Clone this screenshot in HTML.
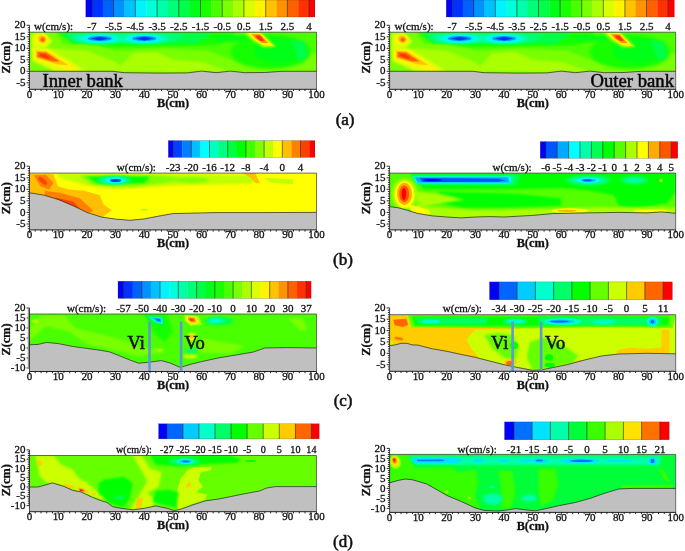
<!DOCTYPE html><html><head><meta charset="utf-8"><title>figure</title><style>html,body{margin:0;padding:0;background:#fff}svg{display:block}.t,.t text{font-family:"Liberation Serif",serif;stroke:#111;stroke-width:0.3px}.tb{stroke-width:0.55px}</style></head><body>
<svg width="685" height="551" viewBox="0 0 685 551">
<defs>
<filter id="b1" x="-50%" y="-50%" width="200%" height="200%"><feGaussianBlur stdDeviation="0.5"/></filter>
<filter id="b2" x="-50%" y="-50%" width="200%" height="200%"><feGaussianBlur stdDeviation="0.8"/></filter>
<filter id="b3" x="-50%" y="-50%" width="200%" height="200%"><feGaussianBlur stdDeviation="1.2"/></filter>
<filter id="b4" x="-50%" y="-50%" width="200%" height="200%"><feGaussianBlur stdDeviation="1.8"/></filter>
<filter id="b5" x="-50%" y="-50%" width="200%" height="200%"><feGaussianBlur stdDeviation="2.5"/></filter>
<filter id="b6" x="-50%" y="-50%" width="200%" height="200%"><feGaussianBlur stdDeviation="3.5"/></filter>
</defs>
<rect width="685" height="551" fill="#fff"/>
<clipPath id="cp1"><polygon points="29.5,32.2 29.5,71.3 112.7,71.3 124.2,72.7 158.7,73.1 187.3,72.9 201.7,71.1 216.1,72.7 230.4,71.1 244.8,72.7 264.8,72.5 282.1,71.3 316.5,71.3 316.5,32.2"/></clipPath>
<rect x="29.5" y="32.2" width="287.0" height="57.1" fill="#c0c0c0"/>
<g clip-path="url(#cp1)">
<rect x="29.5" y="32.2" width="287.0" height="57.1" fill="#79ff00"/>
<polygon points="29.5,32.2 316.5,32.2 316.5,52.9 244.8,64.4 207.4,50.6 158.7,48.3 115.6,50.6 92.6,43.7 63.9,43.7 55.3,32.2" fill="#49ff00" filter="url(#b3)"/>
<polygon points="58.2,32.2 236.1,32.2 218.9,44.8 167.3,46.0 115.6,47.1 72.6,42.5" fill="#18ff00" filter="url(#b3)"/>
<polygon points="61.1,32.7 213.2,32.7 196.0,43.7 72.6,42.8" fill="#00ff49" filter="url(#b2)"/>
<polygon points="66.8,33.8 184.5,33.8 173.0,42.3 75.4,41.9" fill="#00ff79" filter="url(#b2)"/>
<polygon points="72.6,35.4 167.3,35.4 161.5,41.4 81.2,40.9" fill="#00ffaa" filter="url(#b2)"/>
<ellipse cx="270.6" cy="51.8" rx="40.2" ry="17.2" fill="#18ff00" filter="url(#b4)"/>
<ellipse cx="279.2" cy="50.6" rx="25.8" ry="12.6" fill="#00ff18" filter="url(#b4)"/>
<polygon points="290.7,40.2 305.0,41.4 307.9,57.5 299.3,62.1 296.4,52.9" fill="#00ff49" filter="url(#b3)"/>
<polygon points="213.2,35.6 247.6,35.6 247.6,41.4 218.9,41.4" fill="#00ff18" filter="url(#b3)"/>
<polygon points="52.5,48.3 86.9,50.6 115.6,62.1 127.1,71.3 52.5,71.3" fill="#aaff00" filter="url(#b3)"/>
<polygon points="115.6,71.3 132.8,52.9 155.8,51.8 173.0,59.8 201.7,62.1 230.4,71.3" fill="#aaff00" filter="url(#b3)"/>
<ellipse cx="178.7" cy="69.0" rx="17.2" ry="2.8" fill="#aaff00" filter="url(#b2)"/>
<ellipse cx="99.8" cy="38.6" rx="24.4" ry="5.5" fill="#00ffaa" filter="url(#b2)"/>
<ellipse cx="99.8" cy="38.6" rx="18.9" ry="4.4" fill="#00ffdb" filter="url(#b1)"/>
<ellipse cx="99.8" cy="38.6" rx="15.5" ry="3.4" fill="#00f3ff" filter="url(#b1)"/>
<ellipse cx="99.8" cy="38.6" rx="12.1" ry="2.5" fill="#0092ff" filter="url(#b1)"/>
<polygon points="90.6,38.6 99.8,36.8 109.0,38.6 99.8,40.5" fill="#0031ff" filter="url(#b1)"/>
<ellipse cx="144.3" cy="38.6" rx="24.4" ry="5.5" fill="#00ffaa" filter="url(#b2)"/>
<ellipse cx="144.3" cy="38.6" rx="18.9" ry="4.4" fill="#00ffdb" filter="url(#b1)"/>
<ellipse cx="144.3" cy="38.6" rx="15.5" ry="3.4" fill="#00f3ff" filter="url(#b1)"/>
<ellipse cx="144.3" cy="38.6" rx="12.1" ry="2.5" fill="#0092ff" filter="url(#b1)"/>
<polygon points="135.1,38.6 144.3,36.8 153.5,38.6 144.3,40.5" fill="#0031ff" filter="url(#b1)"/>
<polygon points="31.8,33.4 43.9,32.7 52.5,41.4 45.3,48.3 35.2,48.3 31.8,52.9" fill="#dbff00" filter="url(#b2)"/>
<ellipse cx="41.6" cy="39.1" rx="6.9" ry="5.1" fill="#fff300" filter="url(#b2)"/>
<ellipse cx="42.1" cy="39.1" rx="4.3" ry="3.7" fill="#ffc200" filter="url(#b1)" transform="rotate(30 42.1 39.1)"/>
<ellipse cx="42.7" cy="39.6" rx="2.3" ry="2.3" fill="#ff6100" filter="url(#b1)" transform="rotate(30 42.7 39.6)"/>
<polygon points="32.4,47.1 49.6,48.3 86.9,71.3 55.3,71.3 32.4,60.9" fill="#dbff00" filter="url(#b2)"/>
<polygon points="33.8,49.2 48.2,49.9 79.7,69.9 63.9,69.5 33.8,59.3" fill="#fff300" filter="url(#b2)"/>
<polygon points="35.8,50.6 46.7,51.1 68.2,64.9 58.2,64.4 35.8,58.0" fill="#ffc200" filter="url(#b1)"/>
<polygon points="37.5,52.0 46.1,52.4 59.6,61.4 52.5,61.4 37.5,57.0" fill="#ff6100" filter="url(#b1)"/>
<polygon points="39.8,53.8 45.0,54.3 51.0,58.4 46.7,58.6 40.4,56.1" fill="#ff3100" filter="url(#b1)"/>
<polygon points="244.2,32.4 261.4,32.4 276.3,46.9 263.7,47.4 251.9,40.2" fill="#aaff00" filter="url(#b2)"/>
<polygon points="247.3,32.9 260.2,32.9 273.5,46.0 263.7,45.5 253.4,39.1" fill="#fff300" filter="url(#b1)"/>
<polygon points="251.6,34.3 260.2,34.3 268.3,43.0 262.0,43.0 255.1,38.2" fill="#ff9200" filter="url(#b1)"/>
<polygon points="255.1,35.6 260.0,35.6 264.6,40.7 260.8,40.9 257.1,38.2" fill="#ff3100" filter="url(#b1)"/>
</g>
<polyline points="29.5,71.3 112.7,71.3 124.2,72.7 158.7,73.1 187.3,72.9 201.7,71.1 216.1,72.7 230.4,71.1 244.8,72.7 264.8,72.5 282.1,71.3 316.5,71.3" fill="none" stroke="#222" stroke-width="0.7"/>
<line x1="29.5" y1="32.2" x2="316.5" y2="32.2" stroke="#333" stroke-width="0.7"/>
<text class="t tb" font-size="18.7" x="42.5" y="87" fill="#000">Inner bank</text>
<g stroke="#222" stroke-width="0.8" fill="none">
<line x1="29.5" y1="25.3" x2="29.5" y2="89.3"/>
<line x1="29.5" y1="89.3" x2="316.5" y2="89.3" stroke-width="1"/>
<line x1="316.5" y1="32.2" x2="316.5" y2="89.3" stroke-width="0.6"/>
<path d="M29.5 89.3v2.9M35.2 89.3v1.7M41.0 89.3v1.7M46.7 89.3v1.7M52.5 89.3v1.7M58.2 89.3v2.9M63.9 89.3v1.7M69.7 89.3v1.7M75.4 89.3v1.7M81.2 89.3v1.7M86.9 89.3v2.9M92.6 89.3v1.7M98.4 89.3v1.7M104.1 89.3v1.7M109.9 89.3v1.7M115.6 89.3v2.9M121.3 89.3v1.7M127.1 89.3v1.7M132.8 89.3v1.7M138.6 89.3v1.7M144.3 89.3v2.9M150.0 89.3v1.7M155.8 89.3v1.7M161.5 89.3v1.7M167.3 89.3v1.7M173.0 89.3v2.9M178.7 89.3v1.7M184.5 89.3v1.7M190.2 89.3v1.7M196.0 89.3v1.7M201.7 89.3v2.9M207.4 89.3v1.7M213.2 89.3v1.7M218.9 89.3v1.7M224.7 89.3v1.7M230.4 89.3v2.9M236.1 89.3v1.7M241.9 89.3v1.7M247.6 89.3v1.7M253.4 89.3v1.7M259.1 89.3v2.9M264.8 89.3v1.7M270.6 89.3v1.7M276.3 89.3v1.7M282.1 89.3v1.7M287.8 89.3v2.9M293.5 89.3v1.7M299.3 89.3v1.7M305.0 89.3v1.7M310.8 89.3v1.7M316.5 89.3v2.9M29.5 87.4h-1.7M29.5 85.1h-1.7M29.5 82.8h-2.9M29.5 80.5h-1.7M29.5 78.2h-1.7M29.5 75.9h-1.7M29.5 73.6h-1.7M29.5 71.3h-2.9M29.5 69.0h-1.7M29.5 66.7h-1.7M29.5 64.4h-1.7M29.5 62.1h-1.7M29.5 59.8h-2.9M29.5 57.5h-1.7M29.5 55.2h-1.7M29.5 52.9h-1.7M29.5 50.6h-1.7M29.5 48.3h-2.9M29.5 46.0h-1.7M29.5 43.7h-1.7M29.5 41.4h-1.7M29.5 39.1h-1.7M29.5 36.8h-2.9M29.5 34.5h-1.7M29.5 32.2h-1.7M29.5 29.9h-1.7M29.5 27.6h-1.7M29.5 25.3h-2.9" stroke-width="0.9" stroke="#111"/>
</g>
<g class="t" font-size="11" fill="#111">
<text x="29.5" y="97.8" text-anchor="middle">0</text>
<text x="58.2" y="97.8" text-anchor="middle">10</text>
<text x="86.9" y="97.8" text-anchor="middle">20</text>
<text x="115.6" y="97.8" text-anchor="middle">30</text>
<text x="144.3" y="97.8" text-anchor="middle">40</text>
<text x="173.0" y="97.8" text-anchor="middle">50</text>
<text x="201.7" y="97.8" text-anchor="middle">60</text>
<text x="230.4" y="97.8" text-anchor="middle">70</text>
<text x="259.1" y="97.8" text-anchor="middle">80</text>
<text x="287.8" y="97.8" text-anchor="middle">90</text>
<text x="316.5" y="97.8" text-anchor="middle">100</text>
<text x="25.4" y="85.9" text-anchor="end">-5</text>
<text x="25.4" y="74.4" text-anchor="end">0</text>
<text x="25.4" y="62.9" text-anchor="end">5</text>
<text x="25.4" y="51.4" text-anchor="end">10</text>
<text x="25.4" y="39.9" text-anchor="end">15</text>
<text x="25.4" y="28.4" text-anchor="end">20</text>
</g>
<text class="t" font-size="12.3" font-weight="bold" x="173.0" y="106.7" text-anchor="middle" fill="#111">B(cm)</text>
<text class="t" font-size="12.3" font-weight="bold" transform="translate(9.7 57.5) rotate(-90)" text-anchor="middle" fill="#111">Z(cm)</text>
<rect x="85.80" y="0.0" width="6.40" height="17.0" fill="#0000ff"/>
<rect x="91.90" y="0.0" width="11.16" height="17.0" fill="#0031ff"/>
<rect x="102.76" y="0.0" width="11.16" height="17.0" fill="#0061ff"/>
<rect x="113.62" y="0.0" width="11.16" height="17.0" fill="#0092ff"/>
<rect x="124.48" y="0.0" width="11.16" height="17.0" fill="#00c2ff"/>
<rect x="135.34" y="0.0" width="11.16" height="17.0" fill="#00f3ff"/>
<rect x="146.20" y="0.0" width="11.16" height="17.0" fill="#00ffdb"/>
<rect x="157.06" y="0.0" width="11.16" height="17.0" fill="#00ffaa"/>
<rect x="167.92" y="0.0" width="11.16" height="17.0" fill="#00ff79"/>
<rect x="178.78" y="0.0" width="11.16" height="17.0" fill="#00ff49"/>
<rect x="189.64" y="0.0" width="11.16" height="17.0" fill="#00ff18"/>
<rect x="200.50" y="0.0" width="11.16" height="17.0" fill="#18ff00"/>
<rect x="211.36" y="0.0" width="11.16" height="17.0" fill="#49ff00"/>
<rect x="222.22" y="0.0" width="11.16" height="17.0" fill="#79ff00"/>
<rect x="233.08" y="0.0" width="11.16" height="17.0" fill="#aaff00"/>
<rect x="243.94" y="0.0" width="11.16" height="17.0" fill="#dbff00"/>
<rect x="254.80" y="0.0" width="11.16" height="17.0" fill="#fff300"/>
<rect x="265.66" y="0.0" width="11.16" height="17.0" fill="#ffc200"/>
<rect x="276.52" y="0.0" width="11.16" height="17.0" fill="#ff9200"/>
<rect x="287.38" y="0.0" width="11.16" height="17.0" fill="#ff6100"/>
<rect x="298.24" y="0.0" width="11.16" height="17.0" fill="#ff3100"/>
<rect x="309.10" y="0.0" width="5.90" height="17.0" fill="#ff0000"/>
<path d="M91.9 0.0V17.0M113.6 0.0V17.0M135.3 0.0V17.0M157.1 0.0V17.0M178.8 0.0V17.0M200.5 0.0V17.0M222.2 0.0V17.0M243.9 0.0V17.0M265.7 0.0V17.0M287.4 0.0V17.0M309.1 0.0V17.0" stroke="#222" stroke-width="0.6" fill="none"/>
<rect x="85.8" y="0.0" width="228.9" height="17.0" fill="none" stroke="#333" stroke-width="0.4" stroke-opacity="0.6"/>
<g class="t" font-size="11" fill="#111">
<text x="91.9" y="30.0" text-anchor="middle">-7</text>
<text x="113.6" y="30.0" text-anchor="middle">-5.5</text>
<text x="135.3" y="30.0" text-anchor="middle">-4.5</text>
<text x="157.1" y="30.0" text-anchor="middle">-3.5</text>
<text x="178.8" y="30.0" text-anchor="middle">-2.5</text>
<text x="200.5" y="30.0" text-anchor="middle">-1.5</text>
<text x="222.2" y="30.0" text-anchor="middle">-0.5</text>
<text x="243.9" y="30.0" text-anchor="middle">0.5</text>
<text x="265.7" y="30.0" text-anchor="middle">1.5</text>
<text x="287.4" y="30.0" text-anchor="middle">2.5</text>
<text x="309.1" y="30.0" text-anchor="middle">4</text>
<text x="34.0" y="30.0">w(cm/s):</text>
</g>
<clipPath id="cp2"><polygon points="389.6,32.2 389.6,71.3 472.6,71.3 484.0,72.7 518.3,73.1 547.0,72.9 561.3,71.1 575.6,72.7 589.9,71.1 604.2,72.7 624.2,72.5 641.4,71.3 675.7,71.3 675.7,32.2"/></clipPath>
<rect x="389.6" y="32.2" width="286.1" height="57.1" fill="#c0c0c0"/>
<g clip-path="url(#cp2)">
<rect x="389.6" y="32.2" width="286.1" height="57.1" fill="#79ff00"/>
<polygon points="389.6,32.2 675.7,32.2 675.7,52.9 604.2,64.4 567.0,50.6 518.3,48.3 475.4,50.6 452.5,43.7 423.9,43.7 415.3,32.2" fill="#49ff00" filter="url(#b3)"/>
<polygon points="418.2,32.2 595.6,32.2 578.4,44.8 526.9,46.0 475.4,47.1 432.5,42.5" fill="#18ff00" filter="url(#b3)"/>
<polygon points="421.1,32.7 572.7,32.7 555.5,43.7 432.5,42.8" fill="#00ff49" filter="url(#b2)"/>
<polygon points="426.8,33.8 544.1,33.8 532.7,42.3 435.4,41.9" fill="#00ff79" filter="url(#b2)"/>
<polygon points="432.5,35.4 526.9,35.4 521.2,41.4 441.1,40.9" fill="#00ffaa" filter="url(#b2)"/>
<ellipse cx="629.9" cy="51.8" rx="40.1" ry="17.2" fill="#18ff00" filter="url(#b4)"/>
<ellipse cx="638.5" cy="50.6" rx="25.7" ry="12.6" fill="#00ff18" filter="url(#b4)"/>
<polygon points="650.0,40.2 664.3,41.4 667.1,57.5 658.5,62.1 655.7,52.9" fill="#00ff49" filter="url(#b3)"/>
<polygon points="572.7,35.6 607.0,35.6 607.0,41.4 578.4,41.4" fill="#00ff18" filter="url(#b3)"/>
<polygon points="412.5,48.3 446.8,50.6 475.4,62.1 486.9,71.3 412.5,71.3" fill="#aaff00" filter="url(#b3)"/>
<polygon points="475.4,71.3 492.6,52.9 515.5,51.8 532.7,59.8 561.3,62.1 589.9,71.3" fill="#aaff00" filter="url(#b3)"/>
<ellipse cx="538.4" cy="69.0" rx="17.2" ry="2.8" fill="#aaff00" filter="url(#b2)"/>
<ellipse cx="459.7" cy="38.6" rx="24.3" ry="5.5" fill="#00ffaa" filter="url(#b2)"/>
<ellipse cx="459.7" cy="38.6" rx="18.9" ry="4.4" fill="#00ffdb" filter="url(#b1)"/>
<ellipse cx="459.7" cy="38.6" rx="15.4" ry="3.4" fill="#00f3ff" filter="url(#b1)"/>
<ellipse cx="459.7" cy="38.6" rx="12.0" ry="2.5" fill="#0092ff" filter="url(#b1)"/>
<polygon points="450.5,38.6 459.7,36.8 468.8,38.6 459.7,40.5" fill="#0031ff" filter="url(#b1)"/>
<ellipse cx="504.0" cy="38.6" rx="24.3" ry="5.5" fill="#00ffaa" filter="url(#b2)"/>
<ellipse cx="504.0" cy="38.6" rx="18.9" ry="4.4" fill="#00ffdb" filter="url(#b1)"/>
<ellipse cx="504.0" cy="38.6" rx="15.4" ry="3.4" fill="#00f3ff" filter="url(#b1)"/>
<ellipse cx="504.0" cy="38.6" rx="12.0" ry="2.5" fill="#0092ff" filter="url(#b1)"/>
<polygon points="494.9,38.6 504.0,36.8 513.2,38.6 504.0,40.5" fill="#0031ff" filter="url(#b1)"/>
<polygon points="391.9,33.4 403.9,32.7 412.5,41.4 405.3,48.3 395.3,48.3 391.9,52.9" fill="#dbff00" filter="url(#b2)"/>
<ellipse cx="401.6" cy="39.1" rx="6.9" ry="5.1" fill="#fff300" filter="url(#b2)"/>
<ellipse cx="402.2" cy="39.1" rx="4.3" ry="3.7" fill="#ffc200" filter="url(#b1)" transform="rotate(30 402.2 39.1)"/>
<ellipse cx="402.8" cy="39.6" rx="2.3" ry="2.3" fill="#ff6100" filter="url(#b1)" transform="rotate(30 402.8 39.6)"/>
<polygon points="392.5,47.1 409.6,48.3 446.8,71.3 415.3,71.3 392.5,60.9" fill="#dbff00" filter="url(#b2)"/>
<polygon points="393.9,49.2 408.2,49.9 439.7,69.9 423.9,69.5 393.9,59.3" fill="#fff300" filter="url(#b2)"/>
<polygon points="395.9,50.6 406.8,51.1 428.2,64.9 418.2,64.4 395.9,58.0" fill="#ffc200" filter="url(#b1)"/>
<polygon points="397.6,52.0 406.2,52.4 419.6,61.4 412.5,61.4 397.6,57.0" fill="#ff6100" filter="url(#b1)"/>
<polygon points="399.9,53.8 405.0,54.3 411.1,58.4 406.8,58.6 400.5,56.1" fill="#ff3100" filter="url(#b1)"/>
<polygon points="603.6,32.4 620.8,32.4 635.6,46.9 623.1,47.4 611.3,40.2" fill="#aaff00" filter="url(#b2)"/>
<polygon points="606.7,32.9 619.6,32.9 632.8,46.0 623.1,45.5 612.8,39.1" fill="#fff300" filter="url(#b1)"/>
<polygon points="611.0,34.3 619.6,34.3 627.6,43.0 621.3,43.0 614.5,38.2" fill="#ff9200" filter="url(#b1)"/>
<polygon points="614.5,35.6 619.3,35.6 623.9,40.7 620.2,40.9 616.5,38.2" fill="#ff3100" filter="url(#b1)"/>
</g>
<polyline points="389.6,71.3 472.6,71.3 484.0,72.7 518.3,73.1 547.0,72.9 561.3,71.1 575.6,72.7 589.9,71.1 604.2,72.7 624.2,72.5 641.4,71.3 675.7,71.3" fill="none" stroke="#222" stroke-width="0.7"/>
<line x1="389.6" y1="32.2" x2="675.7" y2="32.2" stroke="#333" stroke-width="0.7"/>
<text class="t tb" font-size="18.7" x="674" y="87" text-anchor="end" fill="#000">Outer bank</text>
<g stroke="#222" stroke-width="0.8" fill="none">
<line x1="389.6" y1="25.3" x2="389.6" y2="89.3"/>
<line x1="389.6" y1="89.3" x2="675.7" y2="89.3" stroke-width="1"/>
<line x1="675.7" y1="32.2" x2="675.7" y2="89.3" stroke-width="0.6"/>
<path d="M389.6 89.3v2.9M395.3 89.3v1.7M401.0 89.3v1.7M406.8 89.3v1.7M412.5 89.3v1.7M418.2 89.3v2.9M423.9 89.3v1.7M429.7 89.3v1.7M435.4 89.3v1.7M441.1 89.3v1.7M446.8 89.3v2.9M452.5 89.3v1.7M458.3 89.3v1.7M464.0 89.3v1.7M469.7 89.3v1.7M475.4 89.3v2.9M481.2 89.3v1.7M486.9 89.3v1.7M492.6 89.3v1.7M498.3 89.3v1.7M504.0 89.3v2.9M509.8 89.3v1.7M515.5 89.3v1.7M521.2 89.3v1.7M526.9 89.3v1.7M532.7 89.3v2.9M538.4 89.3v1.7M544.1 89.3v1.7M549.8 89.3v1.7M555.5 89.3v1.7M561.3 89.3v2.9M567.0 89.3v1.7M572.7 89.3v1.7M578.4 89.3v1.7M584.1 89.3v1.7M589.9 89.3v2.9M595.6 89.3v1.7M601.3 89.3v1.7M607.0 89.3v1.7M612.8 89.3v1.7M618.5 89.3v2.9M624.2 89.3v1.7M629.9 89.3v1.7M635.6 89.3v1.7M641.4 89.3v1.7M647.1 89.3v2.9M652.8 89.3v1.7M658.5 89.3v1.7M664.3 89.3v1.7M670.0 89.3v1.7M675.7 89.3v2.9M389.6 87.4h-1.7M389.6 85.1h-1.7M389.6 82.8h-2.9M389.6 80.5h-1.7M389.6 78.2h-1.7M389.6 75.9h-1.7M389.6 73.6h-1.7M389.6 71.3h-2.9M389.6 69.0h-1.7M389.6 66.7h-1.7M389.6 64.4h-1.7M389.6 62.1h-1.7M389.6 59.8h-2.9M389.6 57.5h-1.7M389.6 55.2h-1.7M389.6 52.9h-1.7M389.6 50.6h-1.7M389.6 48.3h-2.9M389.6 46.0h-1.7M389.6 43.7h-1.7M389.6 41.4h-1.7M389.6 39.1h-1.7M389.6 36.8h-2.9M389.6 34.5h-1.7M389.6 32.2h-1.7M389.6 29.9h-1.7M389.6 27.6h-1.7M389.6 25.3h-2.9" stroke-width="0.9" stroke="#111"/>
</g>
<g class="t" font-size="11" fill="#111">
<text x="389.6" y="97.8" text-anchor="middle">0</text>
<text x="418.2" y="97.8" text-anchor="middle">10</text>
<text x="446.8" y="97.8" text-anchor="middle">20</text>
<text x="475.4" y="97.8" text-anchor="middle">30</text>
<text x="504.0" y="97.8" text-anchor="middle">40</text>
<text x="532.7" y="97.8" text-anchor="middle">50</text>
<text x="561.3" y="97.8" text-anchor="middle">60</text>
<text x="589.9" y="97.8" text-anchor="middle">70</text>
<text x="618.5" y="97.8" text-anchor="middle">80</text>
<text x="647.1" y="97.8" text-anchor="middle">90</text>
<text x="675.7" y="97.8" text-anchor="middle">100</text>
<text x="385.5" y="85.9" text-anchor="end">-5</text>
<text x="385.5" y="74.4" text-anchor="end">0</text>
<text x="385.5" y="62.9" text-anchor="end">5</text>
<text x="385.5" y="51.4" text-anchor="end">10</text>
<text x="385.5" y="39.9" text-anchor="end">15</text>
<text x="385.5" y="28.4" text-anchor="end">20</text>
</g>
<text class="t" font-size="12.3" font-weight="bold" x="532.7" y="106.7" text-anchor="middle" fill="#111">B(cm)</text>
<text class="t" font-size="12.3" font-weight="bold" transform="translate(369.8 57.5) rotate(-90)" text-anchor="middle" fill="#111">Z(cm)</text>
<rect x="446.20" y="0.0" width="6.20" height="17.0" fill="#0000ff"/>
<rect x="452.10" y="0.0" width="11.10" height="17.0" fill="#0031ff"/>
<rect x="462.90" y="0.0" width="11.10" height="17.0" fill="#0061ff"/>
<rect x="473.70" y="0.0" width="11.10" height="17.0" fill="#0092ff"/>
<rect x="484.50" y="0.0" width="11.10" height="17.0" fill="#00c2ff"/>
<rect x="495.30" y="0.0" width="11.10" height="17.0" fill="#00f3ff"/>
<rect x="506.10" y="0.0" width="11.10" height="17.0" fill="#00ffdb"/>
<rect x="516.90" y="0.0" width="11.10" height="17.0" fill="#00ffaa"/>
<rect x="527.70" y="0.0" width="11.10" height="17.0" fill="#00ff79"/>
<rect x="538.50" y="0.0" width="11.10" height="17.0" fill="#00ff49"/>
<rect x="549.30" y="0.0" width="11.10" height="17.0" fill="#00ff18"/>
<rect x="560.10" y="0.0" width="11.10" height="17.0" fill="#18ff00"/>
<rect x="570.90" y="0.0" width="11.10" height="17.0" fill="#49ff00"/>
<rect x="581.70" y="0.0" width="11.10" height="17.0" fill="#79ff00"/>
<rect x="592.50" y="0.0" width="11.10" height="17.0" fill="#aaff00"/>
<rect x="603.30" y="0.0" width="11.10" height="17.0" fill="#dbff00"/>
<rect x="614.10" y="0.0" width="11.10" height="17.0" fill="#fff300"/>
<rect x="624.90" y="0.0" width="11.10" height="17.0" fill="#ffc200"/>
<rect x="635.70" y="0.0" width="11.10" height="17.0" fill="#ff9200"/>
<rect x="646.50" y="0.0" width="11.10" height="17.0" fill="#ff6100"/>
<rect x="657.30" y="0.0" width="11.10" height="17.0" fill="#ff3100"/>
<rect x="668.10" y="0.0" width="6.30" height="17.0" fill="#ff0000"/>
<path d="M452.1 0.0V17.0M473.7 0.0V17.0M495.3 0.0V17.0M516.9 0.0V17.0M538.5 0.0V17.0M560.1 0.0V17.0M581.7 0.0V17.0M603.3 0.0V17.0M624.9 0.0V17.0M646.5 0.0V17.0M668.1 0.0V17.0" stroke="#222" stroke-width="0.6" fill="none"/>
<rect x="446.2" y="0.0" width="227.9" height="17.0" fill="none" stroke="#333" stroke-width="0.4" stroke-opacity="0.6"/>
<g class="t" font-size="11" fill="#111">
<text x="452.1" y="30.0" text-anchor="middle">-7</text>
<text x="473.7" y="30.0" text-anchor="middle">-5.5</text>
<text x="495.3" y="30.0" text-anchor="middle">-4.5</text>
<text x="516.9" y="30.0" text-anchor="middle">-3.5</text>
<text x="538.5" y="30.0" text-anchor="middle">-2.5</text>
<text x="560.1" y="30.0" text-anchor="middle">-1.5</text>
<text x="581.7" y="30.0" text-anchor="middle">-0.5</text>
<text x="603.3" y="30.0" text-anchor="middle">0.5</text>
<text x="624.9" y="30.0" text-anchor="middle">1.5</text>
<text x="646.5" y="30.0" text-anchor="middle">2.5</text>
<text x="668.1" y="30.0" text-anchor="middle">4</text>
<text x="394.5" y="30.0">w(cm/s):</text>
</g>
<clipPath id="cp3"><polygon points="29.5,173.1 29.5,192.8 43.9,195.1 58.2,199.5 72.6,205.5 86.9,212.4 101.2,217.0 115.6,219.1 129.9,220.3 144.3,218.9 158.7,216.1 173.0,213.6 201.7,212.9 216.1,212.6 259.1,212.6 316.5,212.4 316.5,173.1"/></clipPath>
<rect x="29.5" y="173.1" width="287.0" height="56.8" fill="#c0c0c0"/>
<g clip-path="url(#cp3)">
<rect x="29.5" y="173.1" width="287.0" height="56.8" fill="#ffff00"/>
<polygon points="55.3,174.1 173.0,174.1 253.4,175.4 253.4,183.5 201.7,184.7 173.0,185.8 115.6,188.8 86.9,185.8 63.9,178.9" fill="#bfff00" filter="url(#b2)"/>
<polygon points="78.3,175.4 161.5,175.4 190.2,178.9 155.8,184.0 132.8,186.5 92.6,184.7" fill="#80ff00" filter="url(#b2)"/>
<polygon points="85.5,176.4 150.0,176.4 144.3,183.3 98.4,183.8" fill="#00ff00" filter="url(#b2)"/>
<ellipse cx="114.2" cy="180.3" rx="17.2" ry="4.6" fill="#00ff80" filter="url(#b2)"/>
<ellipse cx="115.0" cy="180.3" rx="10.9" ry="3.0" fill="#00ffff" filter="url(#b2)"/>
<ellipse cx="115.6" cy="180.5" rx="5.7" ry="1.6" fill="#0040ff" filter="url(#b1)"/>
<polygon points="264.0,177.8 293.5,179.6 293.0,184.2 270.6,182.4" fill="#bfff00" filter="url(#b1)"/>
<ellipse cx="193.1" cy="180.1" rx="15.8" ry="2.8" fill="#80ff00" filter="url(#b2)"/>
<ellipse cx="144.3" cy="209.9" rx="3.7" ry="1.2" fill="#bfff00" filter="url(#b1)"/>
<polygon points="29.5,174.1 53.3,174.1 57.9,186.3 68.8,189.5 84.0,190.7 99.5,195.1 103.8,204.8 111.6,210.3 100.7,218.4 58.2,200.8 29.5,193.9" fill="#ffbf00" filter="url(#b1)"/>
<polygon points="33.8,175.2 45.9,174.7 53.6,183.1 49.0,189.5 40.4,186.3" fill="#ff8000" filter="url(#b1)"/>
<ellipse cx="42.7" cy="180.8" rx="5.7" ry="2.3" fill="#ff4000" filter="url(#b1)" transform="rotate(40 42.7 180.8)"/>
<polygon points="44.7,190.7 59.9,192.8 79.7,198.3 90.6,208.2 92.9,211.0 86.9,213.6 58.2,200.8 44.7,196.2" fill="#ff8000" filter="url(#b1)"/>
<polygon points="54.5,197.2 73.1,201.5 79.7,208.2 72.0,205.9 57.9,200.4" fill="#ff4000" filter="url(#b1)"/>
<polygon points="241.9,173.1 255.1,173.1 260.0,183.3 255.7,183.3 250.5,177.8" fill="#ffbf00" filter="url(#b1)"/>
</g>
<polyline points="29.5,192.8 43.9,195.1 58.2,199.5 72.6,205.5 86.9,212.4 101.2,217.0 115.6,219.1 129.9,220.3 144.3,218.9 158.7,216.1 173.0,213.6 201.7,212.9 216.1,212.6 259.1,212.6 316.5,212.4" fill="none" stroke="#222" stroke-width="0.7"/>
<line x1="29.5" y1="173.1" x2="316.5" y2="173.1" stroke="#333" stroke-width="0.7"/>

<g stroke="#222" stroke-width="0.8" fill="none">
<line x1="29.5" y1="166.2" x2="29.5" y2="229.9"/>
<line x1="29.5" y1="229.9" x2="316.5" y2="229.9" stroke-width="1"/>
<line x1="316.5" y1="173.1" x2="316.5" y2="229.9" stroke-width="0.6"/>
<path d="M29.5 229.9v2.9M35.2 229.9v1.7M41.0 229.9v1.7M46.7 229.9v1.7M52.5 229.9v1.7M58.2 229.9v2.9M63.9 229.9v1.7M69.7 229.9v1.7M75.4 229.9v1.7M81.2 229.9v1.7M86.9 229.9v2.9M92.6 229.9v1.7M98.4 229.9v1.7M104.1 229.9v1.7M109.9 229.9v1.7M115.6 229.9v2.9M121.3 229.9v1.7M127.1 229.9v1.7M132.8 229.9v1.7M138.6 229.9v1.7M144.3 229.9v2.9M150.0 229.9v1.7M155.8 229.9v1.7M161.5 229.9v1.7M167.3 229.9v1.7M173.0 229.9v2.9M178.7 229.9v1.7M184.5 229.9v1.7M190.2 229.9v1.7M196.0 229.9v1.7M201.7 229.9v2.9M207.4 229.9v1.7M213.2 229.9v1.7M218.9 229.9v1.7M224.7 229.9v1.7M230.4 229.9v2.9M236.1 229.9v1.7M241.9 229.9v1.7M247.6 229.9v1.7M253.4 229.9v1.7M259.1 229.9v2.9M264.8 229.9v1.7M270.6 229.9v1.7M276.3 229.9v1.7M282.1 229.9v1.7M287.8 229.9v2.9M293.5 229.9v1.7M299.3 229.9v1.7M305.0 229.9v1.7M310.8 229.9v1.7M316.5 229.9v2.9M29.5 228.6h-1.7M29.5 226.3h-1.7M29.5 224.0h-2.9M29.5 221.6h-1.7M29.5 219.3h-1.7M29.5 217.0h-1.7M29.5 214.7h-1.7M29.5 212.4h-2.9M29.5 210.1h-1.7M29.5 207.8h-1.7M29.5 205.5h-1.7M29.5 203.2h-1.7M29.5 200.8h-2.9M29.5 198.5h-1.7M29.5 196.2h-1.7M29.5 193.9h-1.7M29.5 191.6h-1.7M29.5 189.3h-2.9M29.5 187.0h-1.7M29.5 184.7h-1.7M29.5 182.4h-1.7M29.5 180.1h-1.7M29.5 177.8h-2.9M29.5 175.4h-1.7M29.5 173.1h-1.7M29.5 170.8h-1.7M29.5 168.5h-1.7M29.5 166.2h-2.9" stroke-width="0.9" stroke="#111"/>
</g>
<g class="t" font-size="11" fill="#111">
<text x="29.5" y="238.4" text-anchor="middle">0</text>
<text x="58.2" y="238.4" text-anchor="middle">10</text>
<text x="86.9" y="238.4" text-anchor="middle">20</text>
<text x="115.6" y="238.4" text-anchor="middle">30</text>
<text x="144.3" y="238.4" text-anchor="middle">40</text>
<text x="173.0" y="238.4" text-anchor="middle">50</text>
<text x="201.7" y="238.4" text-anchor="middle">60</text>
<text x="230.4" y="238.4" text-anchor="middle">70</text>
<text x="259.1" y="238.4" text-anchor="middle">80</text>
<text x="287.8" y="238.4" text-anchor="middle">90</text>
<text x="316.5" y="238.4" text-anchor="middle">100</text>
<text x="25.4" y="227.1" text-anchor="end">-5</text>
<text x="25.4" y="215.5" text-anchor="end">0</text>
<text x="25.4" y="203.9" text-anchor="end">5</text>
<text x="25.4" y="192.4" text-anchor="end">10</text>
<text x="25.4" y="180.8" text-anchor="end">15</text>
<text x="25.4" y="169.3" text-anchor="end">20</text>
</g>
<text class="t" font-size="12.3" font-weight="bold" x="173.0" y="247.3" text-anchor="middle" fill="#111">B(cm)</text>
<text class="t" font-size="12.3" font-weight="bold" transform="translate(9.7 198.2) rotate(-90)" text-anchor="middle" fill="#111">Z(cm)</text>
<rect x="168.30" y="140.6" width="5.10" height="16.8" fill="#0000ff"/>
<rect x="173.10" y="140.6" width="9.40" height="16.8" fill="#0040ff"/>
<rect x="182.20" y="140.6" width="9.40" height="16.8" fill="#0080ff"/>
<rect x="191.30" y="140.6" width="9.40" height="16.8" fill="#00bfff"/>
<rect x="200.40" y="140.6" width="9.40" height="16.8" fill="#00ffff"/>
<rect x="209.50" y="140.6" width="9.40" height="16.8" fill="#00ffbf"/>
<rect x="218.60" y="140.6" width="9.40" height="16.8" fill="#00ff80"/>
<rect x="227.70" y="140.6" width="9.40" height="16.8" fill="#00ff40"/>
<rect x="236.80" y="140.6" width="9.40" height="16.8" fill="#00ff00"/>
<rect x="245.90" y="140.6" width="9.40" height="16.8" fill="#40ff00"/>
<rect x="255.00" y="140.6" width="9.40" height="16.8" fill="#80ff00"/>
<rect x="264.10" y="140.6" width="9.40" height="16.8" fill="#bfff00"/>
<rect x="273.20" y="140.6" width="9.40" height="16.8" fill="#ffff00"/>
<rect x="282.30" y="140.6" width="9.40" height="16.8" fill="#ffbf00"/>
<rect x="291.40" y="140.6" width="9.40" height="16.8" fill="#ff8000"/>
<rect x="300.50" y="140.6" width="9.40" height="16.8" fill="#ff4000"/>
<rect x="309.60" y="140.6" width="5.40" height="16.8" fill="#ff0000"/>
<path d="M173.1 140.6V157.4M191.3 140.6V157.4M209.5 140.6V157.4M227.7 140.6V157.4M245.9 140.6V157.4M264.1 140.6V157.4M282.3 140.6V157.4M300.5 140.6V157.4" stroke="#222" stroke-width="0.6" fill="none"/>
<rect x="168.3" y="140.6" width="146.4" height="16.8" fill="none" stroke="#333" stroke-width="0.4" stroke-opacity="0.6"/>
<g class="t" font-size="11" fill="#111">
<text x="173.1" y="170.8" text-anchor="middle">-23</text>
<text x="191.3" y="170.8" text-anchor="middle">-20</text>
<text x="209.5" y="170.8" text-anchor="middle">-16</text>
<text x="227.7" y="170.8" text-anchor="middle">-12</text>
<text x="245.9" y="170.8" text-anchor="middle">-8</text>
<text x="264.1" y="170.8" text-anchor="middle">-4</text>
<text x="282.3" y="170.8" text-anchor="middle">0</text>
<text x="300.5" y="170.8" text-anchor="middle">4</text>
<text x="116.8" y="170.8">w(cm/s):</text>
</g>
<clipPath id="cp4"><polygon points="389.6,173.1 389.6,206.6 398.2,207.8 406.8,210.1 418.2,213.6 432.5,215.9 446.8,217.0 461.1,217.9 475.4,217.0 489.7,216.6 504.0,217.0 532.7,215.4 552.7,213.6 575.6,213.1 618.5,212.4 647.1,212.9 661.4,211.9 675.7,213.3 675.7,173.1"/></clipPath>
<rect x="389.6" y="173.1" width="286.1" height="56.8" fill="#c0c0c0"/>
<g clip-path="url(#cp4)">
<rect x="389.6" y="173.1" width="286.1" height="56.8" fill="#55ff00"/>
<polygon points="409.6,173.1 675.7,173.1 675.7,191.6 667.1,203.2 641.4,206.6 618.5,196.2 589.9,190.5 561.3,188.1 504.0,189.3 423.9,189.3" fill="#00ff00" filter="url(#b3)"/>
<polygon points="411.1,174.5 521.2,174.5 515.5,185.6 418.2,184.7" fill="#00ff55" filter="url(#b2)"/>
<polygon points="412.5,175.9 514.1,175.9 511.2,184.0 416.8,183.8" fill="#00ffaa" filter="url(#b2)"/>
<polygon points="413.3,176.6 511.2,176.6 509.2,183.3 416.2,183.1" fill="#00ffff" filter="url(#b1)"/>
<polygon points="414.8,177.3 508.3,177.3 509.2,182.6 417.6,182.6" fill="#00aaff" filter="url(#b1)"/>
<polygon points="419.6,178.0 458.3,178.2 498.3,178.7 505.5,180.5 498.3,181.7 458.3,181.9 422.5,181.9" fill="#0055ff" filter="url(#b1)"/>
<ellipse cx="432.5" cy="180.1" rx="9.7" ry="1.2" fill="#0000ff" filter="url(#b1)"/>
<ellipse cx="588.4" cy="180.3" rx="22.9" ry="5.5" fill="#00ff55" filter="url(#b3)"/>
<ellipse cx="588.4" cy="180.3" rx="17.2" ry="3.9" fill="#00ffaa" filter="url(#b2)"/>
<ellipse cx="588.4" cy="180.3" rx="11.4" ry="2.5" fill="#00ffff" filter="url(#b1)"/>
<ellipse cx="588.4" cy="180.3" rx="7.4" ry="1.6" fill="#00aaff" filter="url(#b1)"/>
<ellipse cx="587.0" cy="180.3" rx="4.6" ry="1.0" fill="#0055ff" filter="url(#b1)"/>
<ellipse cx="634.2" cy="180.3" rx="14.3" ry="4.6" fill="#00ff55" filter="url(#b3)"/>
<ellipse cx="634.2" cy="180.3" rx="9.2" ry="2.5" fill="#00ffaa" filter="url(#b2)"/>
<ellipse cx="661.1" cy="180.5" rx="1.7" ry="1.8" fill="#aaff00" filter="url(#b1)"/>
<polygon points="438.2,191.6 518.3,193.9 561.3,198.5 561.3,205.5 504.0,207.8 464.0,207.8 441.1,203.2" fill="#00ff00" filter="url(#b3)"/>
<polygon points="612.8,191.6 652.8,189.3 664.3,200.8 635.6,208.9 618.5,205.5" fill="#00ff00" filter="url(#b3)"/>
<polygon points="412.5,205.5 475.4,210.1 538.4,208.9 589.9,207.3 675.7,207.3 675.7,219.3 412.5,219.3" fill="#aaff00" filter="url(#b2)"/>
<polygon points="415.3,191.6 441.1,193.9 464.0,199.7 435.4,204.3 418.2,207.8" fill="#aaff00" filter="url(#b2)"/>
<ellipse cx="404.5" cy="194.4" rx="12.6" ry="15.7" fill="#aaff00" filter="url(#b2)"/>
<ellipse cx="404.5" cy="194.4" rx="10.0" ry="13.4" fill="#ffff00" filter="url(#b1)"/>
<ellipse cx="404.5" cy="193.9" rx="7.4" ry="11.1" fill="#ffaa00" filter="url(#b1)"/>
<ellipse cx="404.2" cy="193.9" rx="4.9" ry="8.3" fill="#ff5500" filter="url(#b1)"/>
<ellipse cx="403.9" cy="193.9" rx="2.3" ry="6.0" fill="#ff0000" filter="url(#b1)"/>
<polygon points="406.8,204.3 418.2,206.4 429.7,210.6 429.7,214.7 412.5,212.4" fill="#ffff00" filter="url(#b1)"/>
<ellipse cx="569.8" cy="210.6" rx="18.6" ry="2.3" fill="#ffff00" filter="url(#b1)"/>
<ellipse cx="567.0" cy="210.8" rx="9.7" ry="1.0" fill="#ffaa00" filter="url(#b1)"/>
<ellipse cx="650.0" cy="211.0" rx="17.2" ry="1.6" fill="#ffff00" filter="url(#b1)"/>
</g>
<polyline points="389.6,206.6 398.2,207.8 406.8,210.1 418.2,213.6 432.5,215.9 446.8,217.0 461.1,217.9 475.4,217.0 489.7,216.6 504.0,217.0 532.7,215.4 552.7,213.6 575.6,213.1 618.5,212.4 647.1,212.9 661.4,211.9 675.7,213.3" fill="none" stroke="#222" stroke-width="0.7"/>
<line x1="389.6" y1="173.1" x2="675.7" y2="173.1" stroke="#333" stroke-width="0.7"/>

<g stroke="#222" stroke-width="0.8" fill="none">
<line x1="389.6" y1="166.2" x2="389.6" y2="229.9"/>
<line x1="389.6" y1="229.9" x2="675.7" y2="229.9" stroke-width="1"/>
<line x1="675.7" y1="173.1" x2="675.7" y2="229.9" stroke-width="0.6"/>
<path d="M389.6 229.9v2.9M395.3 229.9v1.7M401.0 229.9v1.7M406.8 229.9v1.7M412.5 229.9v1.7M418.2 229.9v2.9M423.9 229.9v1.7M429.7 229.9v1.7M435.4 229.9v1.7M441.1 229.9v1.7M446.8 229.9v2.9M452.5 229.9v1.7M458.3 229.9v1.7M464.0 229.9v1.7M469.7 229.9v1.7M475.4 229.9v2.9M481.2 229.9v1.7M486.9 229.9v1.7M492.6 229.9v1.7M498.3 229.9v1.7M504.0 229.9v2.9M509.8 229.9v1.7M515.5 229.9v1.7M521.2 229.9v1.7M526.9 229.9v1.7M532.7 229.9v2.9M538.4 229.9v1.7M544.1 229.9v1.7M549.8 229.9v1.7M555.5 229.9v1.7M561.3 229.9v2.9M567.0 229.9v1.7M572.7 229.9v1.7M578.4 229.9v1.7M584.1 229.9v1.7M589.9 229.9v2.9M595.6 229.9v1.7M601.3 229.9v1.7M607.0 229.9v1.7M612.8 229.9v1.7M618.5 229.9v2.9M624.2 229.9v1.7M629.9 229.9v1.7M635.6 229.9v1.7M641.4 229.9v1.7M647.1 229.9v2.9M652.8 229.9v1.7M658.5 229.9v1.7M664.3 229.9v1.7M670.0 229.9v1.7M675.7 229.9v2.9M389.6 228.6h-1.7M389.6 226.3h-1.7M389.6 224.0h-2.9M389.6 221.6h-1.7M389.6 219.3h-1.7M389.6 217.0h-1.7M389.6 214.7h-1.7M389.6 212.4h-2.9M389.6 210.1h-1.7M389.6 207.8h-1.7M389.6 205.5h-1.7M389.6 203.2h-1.7M389.6 200.8h-2.9M389.6 198.5h-1.7M389.6 196.2h-1.7M389.6 193.9h-1.7M389.6 191.6h-1.7M389.6 189.3h-2.9M389.6 187.0h-1.7M389.6 184.7h-1.7M389.6 182.4h-1.7M389.6 180.1h-1.7M389.6 177.8h-2.9M389.6 175.4h-1.7M389.6 173.1h-1.7M389.6 170.8h-1.7M389.6 168.5h-1.7M389.6 166.2h-2.9" stroke-width="0.9" stroke="#111"/>
</g>
<g class="t" font-size="11" fill="#111">
<text x="389.6" y="238.4" text-anchor="middle">0</text>
<text x="418.2" y="238.4" text-anchor="middle">10</text>
<text x="446.8" y="238.4" text-anchor="middle">20</text>
<text x="475.4" y="238.4" text-anchor="middle">30</text>
<text x="504.0" y="238.4" text-anchor="middle">40</text>
<text x="532.7" y="238.4" text-anchor="middle">50</text>
<text x="561.3" y="238.4" text-anchor="middle">60</text>
<text x="589.9" y="238.4" text-anchor="middle">70</text>
<text x="618.5" y="238.4" text-anchor="middle">80</text>
<text x="647.1" y="238.4" text-anchor="middle">90</text>
<text x="675.7" y="238.4" text-anchor="middle">100</text>
<text x="385.5" y="227.1" text-anchor="end">-5</text>
<text x="385.5" y="215.5" text-anchor="end">0</text>
<text x="385.5" y="203.9" text-anchor="end">5</text>
<text x="385.5" y="192.4" text-anchor="end">10</text>
<text x="385.5" y="180.8" text-anchor="end">15</text>
<text x="385.5" y="169.3" text-anchor="end">20</text>
</g>
<text class="t" font-size="12.3" font-weight="bold" x="532.7" y="247.3" text-anchor="middle" fill="#111">B(cm)</text>
<text class="t" font-size="12.3" font-weight="bold" transform="translate(369.8 198.2) rotate(-90)" text-anchor="middle" fill="#111">Z(cm)</text>
<rect x="540.20" y="141.6" width="5.90" height="16.7" fill="#0000ff"/>
<rect x="545.80" y="141.6" width="11.70" height="16.7" fill="#0055ff"/>
<rect x="557.20" y="141.6" width="11.70" height="16.7" fill="#00aaff"/>
<rect x="568.60" y="141.6" width="11.70" height="16.7" fill="#00ffff"/>
<rect x="580.00" y="141.6" width="11.70" height="16.7" fill="#00ffaa"/>
<rect x="591.40" y="141.6" width="11.70" height="16.7" fill="#00ff55"/>
<rect x="602.80" y="141.6" width="11.70" height="16.7" fill="#00ff00"/>
<rect x="614.20" y="141.6" width="11.70" height="16.7" fill="#55ff00"/>
<rect x="625.60" y="141.6" width="11.70" height="16.7" fill="#aaff00"/>
<rect x="637.00" y="141.6" width="11.70" height="16.7" fill="#ffff00"/>
<rect x="648.40" y="141.6" width="11.70" height="16.7" fill="#ffaa00"/>
<rect x="659.80" y="141.6" width="11.70" height="16.7" fill="#ff5500"/>
<rect x="671.20" y="141.6" width="6.60" height="16.7" fill="#ff0000"/>
<path d="M545.8 141.6V158.3M557.2 141.6V158.3M568.6 141.6V158.3M580.0 141.6V158.3M591.4 141.6V158.3M602.8 141.6V158.3M614.2 141.6V158.3M625.6 141.6V158.3M637.0 141.6V158.3M648.4 141.6V158.3M659.8 141.6V158.3M671.2 141.6V158.3" stroke="#222" stroke-width="0.6" fill="none"/>
<rect x="540.2" y="141.6" width="137.3" height="16.7" fill="none" stroke="#333" stroke-width="0.4" stroke-opacity="0.6"/>
<g class="t" font-size="11" fill="#111">
<text x="545.8" y="171.0" text-anchor="middle">-6</text>
<text x="557.2" y="171.0" text-anchor="middle">-5</text>
<text x="568.6" y="171.0" text-anchor="middle">-4</text>
<text x="580.0" y="171.0" text-anchor="middle">-3</text>
<text x="591.4" y="171.0" text-anchor="middle">-2</text>
<text x="602.8" y="171.0" text-anchor="middle">-1</text>
<text x="614.2" y="171.0" text-anchor="middle">0</text>
<text x="625.6" y="171.0" text-anchor="middle">1</text>
<text x="637.0" y="171.0" text-anchor="middle">2</text>
<text x="648.4" y="171.0" text-anchor="middle">3</text>
<text x="659.8" y="171.0" text-anchor="middle">4</text>
<text x="671.2" y="171.0" text-anchor="middle">5</text>
<text x="492.5" y="171.0">w(cm/s):</text>
</g>
<clipPath id="cp5"><polygon points="29.5,314.0 29.5,344.8 38.1,344.4 46.7,342.4 58.2,343.6 72.6,346.4 86.9,348.4 101.2,350.4 109.9,352.0 118.5,355.4 129.9,360.0 138.6,363.2 147.2,362.4 161.5,360.6 170.1,363.0 180.2,367.4 190.2,364.4 201.7,361.6 218.9,357.8 236.1,355.0 253.4,352.0 264.8,348.0 287.8,347.6 316.5,348.0 316.5,314.0"/></clipPath>
<rect x="29.5" y="314.0" width="287.0" height="57.5" fill="#c0c0c0"/>
<g clip-path="url(#cp5)">
<rect x="29.5" y="314.0" width="287.0" height="57.5" fill="#49ff00"/>
<polygon points="29.5,328.0 41.0,316.0 63.9,315.0 75.4,328.0 115.6,338.0 158.7,352.0 138.6,356.0 86.9,344.0 69.7,332.0 46.7,326.0 29.5,340.0" fill="#79ff00" filter="url(#b3)"/>
<ellipse cx="35.2" cy="321.0" rx="2.9" ry="1.6" fill="#dbff00" filter="url(#b2)"/>
<polygon points="144.3,314.0 167.3,314.0 173.0,332.0 164.4,342.0 152.9,332.0" fill="#18ff00" filter="url(#b3)"/>
<polygon points="201.7,338.0 244.8,346.0 230.4,354.0 196.0,352.0" fill="#79ff00" filter="url(#b3)"/>
<polygon points="287.8,318.0 302.2,318.0 307.9,330.0 299.3,330.0" fill="#79ff00" filter="url(#b2)"/>
<polygon points="142.9,314.7 163.2,316.3 164.9,326.2 153.7,323.4" fill="#00ff18" filter="url(#b1)"/>
<polygon points="146.1,315.8 162.4,317.1 163.7,325.0 154.7,322.8" fill="#00ff79" filter="url(#b1)"/>
<polygon points="148.9,316.7 161.6,317.7 162.7,323.9 155.6,322.2" fill="#00ffdb" filter="url(#b1)"/>
<polygon points="152.0,317.7 160.8,318.4 161.5,322.7 156.6,321.5" fill="#00c2ff" filter="url(#b1)"/>
<polygon points="154.8,318.6 160.1,319.0 160.5,321.6 157.6,320.9" fill="#0061ff" filter="url(#b1)"/>
<polygon points="184.5,315.0 198.5,316.0 201.7,324.8 190.8,326.0 184.5,320.8" fill="#aaff00" filter="url(#b1)"/>
<polygon points="186.4,316.2 196.5,317.0 198.8,323.3 191.0,324.2 186.4,320.4" fill="#fff300" filter="url(#b1)"/>
<polygon points="188.1,317.3 194.8,317.8 196.3,322.0 191.1,322.6 188.1,320.1" fill="#ff9200" filter="url(#b1)"/>
<polygon points="189.6,318.3 193.2,318.5 194.1,320.8 191.2,321.1 189.6,319.8" fill="#ff3100" filter="url(#b1)"/>
<ellipse cx="218.9" cy="321.0" rx="14.4" ry="4.4" fill="#00ff49" filter="url(#b3)"/>
<ellipse cx="216.1" cy="320.8" rx="8.6" ry="2.8" fill="#00ffaa" filter="url(#b2)"/>
<ellipse cx="214.6" cy="320.8" rx="4.6" ry="1.8" fill="#00ffdb" filter="url(#b2)"/>
<ellipse cx="191.7" cy="337.0" rx="4.6" ry="4.4" fill="#dbff00" filter="url(#b2)"/>
<ellipse cx="191.7" cy="336.4" rx="2.0" ry="2.0" fill="#ffc200" filter="url(#b1)"/>
<ellipse cx="191.7" cy="351.0" rx="6.3" ry="2.4" fill="#00ff79" filter="url(#b2)"/>
<ellipse cx="190.2" cy="356.4" rx="7.2" ry="2.0" fill="#dbff00" filter="url(#b2)"/>
<ellipse cx="158.7" cy="350.4" rx="5.7" ry="3.0" fill="#79ff00" filter="url(#b2)"/>
<ellipse cx="159.2" cy="350.4" rx="2.6" ry="1.4" fill="#aaff00" filter="url(#b1)"/>
</g>
<polyline points="29.5,344.8 38.1,344.4 46.7,342.4 58.2,343.6 72.6,346.4 86.9,348.4 101.2,350.4 109.9,352.0 118.5,355.4 129.9,360.0 138.6,363.2 147.2,362.4 161.5,360.6 170.1,363.0 180.2,367.4 190.2,364.4 201.7,361.6 218.9,357.8 236.1,355.0 253.4,352.0 264.8,348.0 287.8,347.6 316.5,348.0" fill="none" stroke="#222" stroke-width="0.7"/>
<line x1="29.5" y1="314.0" x2="316.5" y2="314.0" stroke="#333" stroke-width="0.7"/>
<rect x="148.2" y="321.4" width="2.6" height="50" fill="#5b9bd5"/><rect x="179.8" y="321.4" width="2.6" height="50" fill="#5b9bd5"/><text class="t tb" font-size="18.5" x="127.5" y="349" fill="#111">Vi</text><text class="t tb" font-size="18.5" x="184.5" y="349" fill="#111">Vo</text>
<g stroke="#222" stroke-width="0.8" fill="none">
<line x1="29.5" y1="308.0" x2="29.5" y2="371.5"/>
<line x1="29.5" y1="371.5" x2="316.5" y2="371.5" stroke-width="1"/>
<line x1="316.5" y1="314.0" x2="316.5" y2="371.5" stroke-width="0.6"/>
<path d="M29.5 371.5v2.9M35.2 371.5v1.7M41.0 371.5v1.7M46.7 371.5v1.7M52.5 371.5v1.7M58.2 371.5v2.9M63.9 371.5v1.7M69.7 371.5v1.7M75.4 371.5v1.7M81.2 371.5v1.7M86.9 371.5v2.9M92.6 371.5v1.7M98.4 371.5v1.7M104.1 371.5v1.7M109.9 371.5v1.7M115.6 371.5v2.9M121.3 371.5v1.7M127.1 371.5v1.7M132.8 371.5v1.7M138.6 371.5v1.7M144.3 371.5v2.9M150.0 371.5v1.7M155.8 371.5v1.7M161.5 371.5v1.7M167.3 371.5v1.7M173.0 371.5v2.9M178.7 371.5v1.7M184.5 371.5v1.7M190.2 371.5v1.7M196.0 371.5v1.7M201.7 371.5v2.9M207.4 371.5v1.7M213.2 371.5v1.7M218.9 371.5v1.7M224.7 371.5v1.7M230.4 371.5v2.9M236.1 371.5v1.7M241.9 371.5v1.7M247.6 371.5v1.7M253.4 371.5v1.7M259.1 371.5v2.9M264.8 371.5v1.7M270.6 371.5v1.7M276.3 371.5v1.7M282.1 371.5v1.7M287.8 371.5v2.9M293.5 371.5v1.7M299.3 371.5v1.7M305.0 371.5v1.7M310.8 371.5v1.7M316.5 371.5v2.9M29.5 368.0h-2.9M29.5 366.0h-1.7M29.5 364.0h-1.7M29.5 362.0h-1.7M29.5 360.0h-1.7M29.5 358.0h-2.9M29.5 356.0h-1.7M29.5 354.0h-1.7M29.5 352.0h-1.7M29.5 350.0h-1.7M29.5 348.0h-2.9M29.5 346.0h-1.7M29.5 344.0h-1.7M29.5 342.0h-1.7M29.5 340.0h-1.7M29.5 338.0h-2.9M29.5 336.0h-1.7M29.5 334.0h-1.7M29.5 332.0h-1.7M29.5 330.0h-1.7M29.5 328.0h-2.9M29.5 326.0h-1.7M29.5 324.0h-1.7M29.5 322.0h-1.7M29.5 320.0h-1.7M29.5 318.0h-2.9M29.5 316.0h-1.7M29.5 314.0h-1.7M29.5 312.0h-1.7M29.5 310.0h-1.7M29.5 308.0h-2.9" stroke-width="0.9" stroke="#111"/>
</g>
<g class="t" font-size="11" fill="#111">
<text x="29.5" y="380.0" text-anchor="middle">0</text>
<text x="58.2" y="380.0" text-anchor="middle">10</text>
<text x="86.9" y="380.0" text-anchor="middle">20</text>
<text x="115.6" y="380.0" text-anchor="middle">30</text>
<text x="144.3" y="380.0" text-anchor="middle">40</text>
<text x="173.0" y="380.0" text-anchor="middle">50</text>
<text x="201.7" y="380.0" text-anchor="middle">60</text>
<text x="230.4" y="380.0" text-anchor="middle">70</text>
<text x="259.1" y="380.0" text-anchor="middle">80</text>
<text x="287.8" y="380.0" text-anchor="middle">90</text>
<text x="316.5" y="380.0" text-anchor="middle">100</text>
<text x="25.4" y="371.1" text-anchor="end">-10</text>
<text x="25.4" y="361.1" text-anchor="end">-5</text>
<text x="25.4" y="351.1" text-anchor="end">0</text>
<text x="25.4" y="341.1" text-anchor="end">5</text>
<text x="25.4" y="331.1" text-anchor="end">10</text>
<text x="25.4" y="321.1" text-anchor="end">15</text>
<text x="25.4" y="311.1" text-anchor="end">20</text>
</g>
<text class="t" font-size="12.3" font-weight="bold" x="173.0" y="388.9" text-anchor="middle" fill="#111">B(cm)</text>
<text class="t" font-size="12.3" font-weight="bold" transform="translate(9.7 339.4) rotate(-90)" text-anchor="middle" fill="#111">Z(cm)</text>
<rect x="118.00" y="281.2" width="5.80" height="17.2" fill="#0000ff"/>
<rect x="123.50" y="281.2" width="9.44" height="17.2" fill="#0031ff"/>
<rect x="132.63" y="281.2" width="9.44" height="17.2" fill="#0061ff"/>
<rect x="141.77" y="281.2" width="9.44" height="17.2" fill="#0092ff"/>
<rect x="150.90" y="281.2" width="9.44" height="17.2" fill="#00c2ff"/>
<rect x="160.04" y="281.2" width="9.44" height="17.2" fill="#00f3ff"/>
<rect x="169.17" y="281.2" width="9.44" height="17.2" fill="#00ffdb"/>
<rect x="178.31" y="281.2" width="9.44" height="17.2" fill="#00ffaa"/>
<rect x="187.44" y="281.2" width="9.44" height="17.2" fill="#00ff79"/>
<rect x="196.58" y="281.2" width="9.44" height="17.2" fill="#00ff49"/>
<rect x="205.71" y="281.2" width="9.44" height="17.2" fill="#00ff18"/>
<rect x="214.85" y="281.2" width="9.44" height="17.2" fill="#18ff00"/>
<rect x="223.98" y="281.2" width="9.44" height="17.2" fill="#49ff00"/>
<rect x="233.12" y="281.2" width="9.44" height="17.2" fill="#79ff00"/>
<rect x="242.25" y="281.2" width="9.44" height="17.2" fill="#aaff00"/>
<rect x="251.39" y="281.2" width="9.44" height="17.2" fill="#dbff00"/>
<rect x="260.52" y="281.2" width="9.44" height="17.2" fill="#fff300"/>
<rect x="269.66" y="281.2" width="9.44" height="17.2" fill="#ffc200"/>
<rect x="278.79" y="281.2" width="9.44" height="17.2" fill="#ff9200"/>
<rect x="287.93" y="281.2" width="9.44" height="17.2" fill="#ff6100"/>
<rect x="297.06" y="281.2" width="9.44" height="17.2" fill="#ff3100"/>
<rect x="306.20" y="281.2" width="5.00" height="17.2" fill="#ff0000"/>
<path d="M123.5 281.2V298.4M141.8 281.2V298.4M160.0 281.2V298.4M178.3 281.2V298.4M196.6 281.2V298.4M214.8 281.2V298.4M233.1 281.2V298.4M251.4 281.2V298.4M269.7 281.2V298.4M287.9 281.2V298.4M306.2 281.2V298.4" stroke="#222" stroke-width="0.6" fill="none"/>
<rect x="118.0" y="281.2" width="192.9" height="17.2" fill="none" stroke="#333" stroke-width="0.4" stroke-opacity="0.6"/>
<g class="t" font-size="11" fill="#111">
<text x="123.5" y="311.5" text-anchor="middle">-57</text>
<text x="141.8" y="311.5" text-anchor="middle">-50</text>
<text x="160.0" y="311.5" text-anchor="middle">-40</text>
<text x="178.3" y="311.5" text-anchor="middle">-30</text>
<text x="196.6" y="311.5" text-anchor="middle">-20</text>
<text x="214.8" y="311.5" text-anchor="middle">-10</text>
<text x="233.1" y="311.5" text-anchor="middle">0</text>
<text x="251.4" y="311.5" text-anchor="middle">10</text>
<text x="269.7" y="311.5" text-anchor="middle">20</text>
<text x="287.9" y="311.5" text-anchor="middle">30</text>
<text x="306.2" y="311.5" text-anchor="middle">37</text>
<text x="67.0" y="311.5">w(cm/s):</text>
</g>
<clipPath id="cp6"><polygon points="389.6,314.7 389.6,345.6 395.3,344.9 401.0,343.3 406.8,343.3 412.5,344.9 418.2,345.1 423.9,346.7 432.5,348.8 446.8,351.3 461.1,354.4 475.4,357.4 489.7,361.0 504.0,364.7 518.3,367.6 532.7,370.3 541.2,369.9 552.7,367.6 567.0,364.7 584.1,360.1 601.3,356.0 618.5,354.0 647.1,353.3 675.7,353.8 675.7,314.7"/></clipPath>
<rect x="389.6" y="314.7" width="286.1" height="56.6" fill="#c0c0c0"/>
<g clip-path="url(#cp6)">
<rect x="389.6" y="314.7" width="286.1" height="56.6" fill="#ccff00"/>
<polygon points="389.6,314.7 406.8,314.7 410.8,327.6 475.4,327.6 521.2,328.1 521.2,329.2 475.4,329.7 472.0,333.1 466.6,339.7 471.1,348.5 480.9,359.4 475.4,360.1 389.6,346.5" fill="#ffcc00" filter="url(#b1)"/>
<polygon points="661.7,329.7 669.4,329.7 669.4,355.6 616.8,355.6 616.8,350.6 629.9,347.6 647.1,348.8 661.4,347.4" fill="#ffcc00" filter="url(#b1)"/>
<ellipse cx="576.4" cy="362.6" rx="5.1" ry="1.6" fill="#ffcc00" filter="url(#b1)" transform="rotate(-25 576.4 362.6)"/>
<polygon points="407.6,314.7 675.7,314.7 672.8,327.9 604.2,327.0 532.7,328.3 411.3,327.6" fill="#66ff00" filter="url(#b1)"/>
<polygon points="411.1,316.3 526.9,316.3 589.9,315.8 670.0,316.5 668.5,325.4 589.9,325.2 526.9,326.3 414.8,325.6" fill="#00ff00" filter="url(#b2)"/>
<polygon points="415.3,317.9 486.9,317.9 486.9,324.2 418.2,324.0" fill="#00ff66" filter="url(#b2)"/>
<ellipse cx="431.1" cy="321.5" rx="9.2" ry="2.0" fill="#00ffcc" filter="url(#b1)"/>
<ellipse cx="464.0" cy="321.5" rx="14.3" ry="1.8" fill="#00ff66" filter="url(#b1)"/>
<polygon points="538.4,317.0 595.6,317.0 641.4,318.1 661.4,317.4 661.4,324.7 538.4,325.2" fill="#00ff66" filter="url(#b2)"/>
<ellipse cx="515.5" cy="321.5" rx="12.9" ry="3.4" fill="#00ff66" filter="url(#b2)"/>
<ellipse cx="515.5" cy="321.3" rx="9.2" ry="2.0" fill="#00ffcc" filter="url(#b1)"/>
<ellipse cx="562.7" cy="321.5" rx="18.6" ry="3.6" fill="#00ffcc" filter="url(#b1)"/>
<ellipse cx="561.3" cy="321.5" rx="13.2" ry="2.0" fill="#00ccff" filter="url(#b1)"/>
<ellipse cx="559.8" cy="321.5" rx="9.2" ry="1.0" fill="#0066ff" filter="url(#b1)"/>
<ellipse cx="604.2" cy="322.0" rx="11.4" ry="2.3" fill="#00ffcc" filter="url(#b2)"/>
<ellipse cx="652.5" cy="321.7" rx="5.7" ry="5.0" fill="#00ffcc" filter="url(#b1)"/>
<ellipse cx="652.5" cy="321.7" rx="3.4" ry="3.0" fill="#00ccff" filter="url(#b1)"/>
<ellipse cx="652.5" cy="321.7" rx="1.7" ry="1.8" fill="#0066ff" filter="url(#b1)"/>
<polygon points="393.3,319.7 406.2,318.8 408.2,324.7 402.5,327.0 394.7,325.2" fill="#ff6600" filter="url(#b1)"/>
<ellipse cx="398.8" cy="338.5" rx="4.6" ry="1.2" fill="#ff6600" filter="url(#b1)" transform="rotate(10 398.8 338.5)"/>
<ellipse cx="391.0" cy="343.3" rx="2.0" ry="2.3" fill="#ccff00" filter="url(#b1)"/>
<polygon points="484.0,335.1 498.3,332.9 512.6,335.1 518.3,346.5 515.5,360.1 504.0,357.8 492.6,348.8" fill="#66ff00" filter="url(#b2)"/>
<ellipse cx="514.1" cy="345.4" rx="4.0" ry="3.6" fill="#00ff00" filter="url(#b1)"/>
<polygon points="529.8,341.9 544.1,337.4 561.3,344.2 578.4,355.6 572.7,363.5 552.7,367.6 532.7,370.3 526.9,357.8" fill="#66ff00" filter="url(#b2)"/>
<ellipse cx="549.0" cy="357.4" rx="4.0" ry="3.2" fill="#00ff00" filter="url(#b1)"/>
<ellipse cx="549.8" cy="365.1" rx="5.1" ry="2.3" fill="#00ff00" filter="url(#b1)"/>
<ellipse cx="510.6" cy="362.2" rx="6.6" ry="3.4" fill="#ffcc00" filter="url(#b1)"/>
<ellipse cx="509.8" cy="363.1" rx="3.7" ry="2.0" fill="#ff6600" filter="url(#b1)"/>
</g>
<polyline points="389.6,345.6 395.3,344.9 401.0,343.3 406.8,343.3 412.5,344.9 418.2,345.1 423.9,346.7 432.5,348.8 446.8,351.3 461.1,354.4 475.4,357.4 489.7,361.0 504.0,364.7 518.3,367.6 532.7,370.3 541.2,369.9 552.7,367.6 567.0,364.7 584.1,360.1 601.3,356.0 618.5,354.0 647.1,353.3 675.7,353.8" fill="none" stroke="#222" stroke-width="0.7"/>
<line x1="389.6" y1="314.7" x2="675.7" y2="314.7" stroke="#333" stroke-width="0.7"/>
<rect x="511.3" y="321.4" width="2.6" height="50.4" fill="#5b9bd5"/><rect x="539.8" y="322" width="2.6" height="49.8" fill="#5b9bd5"/><text class="t tb" font-size="18.5" x="491" y="349" fill="#111">Vi</text><text class="t tb" font-size="18.5" x="545" y="349" fill="#111">Vo</text>
<g stroke="#222" stroke-width="0.8" fill="none">
<line x1="389.6" y1="307.9" x2="389.6" y2="371.3"/>
<line x1="389.6" y1="371.3" x2="675.7" y2="371.3" stroke-width="1"/>
<line x1="675.7" y1="314.7" x2="675.7" y2="371.3" stroke-width="0.6"/>
<path d="M389.6 371.3v2.9M395.3 371.3v1.7M401.0 371.3v1.7M406.8 371.3v1.7M412.5 371.3v1.7M418.2 371.3v2.9M423.9 371.3v1.7M429.7 371.3v1.7M435.4 371.3v1.7M441.1 371.3v1.7M446.8 371.3v2.9M452.5 371.3v1.7M458.3 371.3v1.7M464.0 371.3v1.7M469.7 371.3v1.7M475.4 371.3v2.9M481.2 371.3v1.7M486.9 371.3v1.7M492.6 371.3v1.7M498.3 371.3v1.7M504.0 371.3v2.9M509.8 371.3v1.7M515.5 371.3v1.7M521.2 371.3v1.7M526.9 371.3v1.7M532.7 371.3v2.9M538.4 371.3v1.7M544.1 371.3v1.7M549.8 371.3v1.7M555.5 371.3v1.7M561.3 371.3v2.9M567.0 371.3v1.7M572.7 371.3v1.7M578.4 371.3v1.7M584.1 371.3v1.7M589.9 371.3v2.9M595.6 371.3v1.7M601.3 371.3v1.7M607.0 371.3v1.7M612.8 371.3v1.7M618.5 371.3v2.9M624.2 371.3v1.7M629.9 371.3v1.7M635.6 371.3v1.7M641.4 371.3v1.7M647.1 371.3v2.9M652.8 371.3v1.7M658.5 371.3v1.7M664.3 371.3v1.7M670.0 371.3v1.7M675.7 371.3v2.9M389.6 369.2h-1.7M389.6 366.9h-1.7M389.6 364.7h-2.9M389.6 362.4h-1.7M389.6 360.1h-1.7M389.6 357.8h-1.7M389.6 355.6h-1.7M389.6 353.3h-2.9M389.6 351.0h-1.7M389.6 348.8h-1.7M389.6 346.5h-1.7M389.6 344.2h-1.7M389.6 341.9h-2.9M389.6 339.7h-1.7M389.6 337.4h-1.7M389.6 335.1h-1.7M389.6 332.9h-1.7M389.6 330.6h-2.9M389.6 328.3h-1.7M389.6 326.1h-1.7M389.6 323.8h-1.7M389.6 321.5h-1.7M389.6 319.2h-2.9M389.6 317.0h-1.7M389.6 314.7h-1.7M389.6 312.4h-1.7M389.6 310.2h-1.7M389.6 307.9h-2.9" stroke-width="0.9" stroke="#111"/>
</g>
<g class="t" font-size="11" fill="#111">
<text x="389.6" y="379.8" text-anchor="middle">0</text>
<text x="418.2" y="379.8" text-anchor="middle">10</text>
<text x="446.8" y="379.8" text-anchor="middle">20</text>
<text x="475.4" y="379.8" text-anchor="middle">30</text>
<text x="504.0" y="379.8" text-anchor="middle">40</text>
<text x="532.7" y="379.8" text-anchor="middle">50</text>
<text x="561.3" y="379.8" text-anchor="middle">60</text>
<text x="589.9" y="379.8" text-anchor="middle">70</text>
<text x="618.5" y="379.8" text-anchor="middle">80</text>
<text x="647.1" y="379.8" text-anchor="middle">90</text>
<text x="675.7" y="379.8" text-anchor="middle">100</text>
<text x="385.5" y="367.8" text-anchor="end">-5</text>
<text x="385.5" y="356.4" text-anchor="end">0</text>
<text x="385.5" y="345.1" text-anchor="end">5</text>
<text x="385.5" y="333.7" text-anchor="end">10</text>
<text x="385.5" y="322.4" text-anchor="end">15</text>
<text x="385.5" y="311.0" text-anchor="end">20</text>
</g>
<text class="t" font-size="12.3" font-weight="bold" x="532.7" y="388.7" text-anchor="middle" fill="#111">B(cm)</text>
<text class="t" font-size="12.3" font-weight="bold" transform="translate(369.8 339.7) rotate(-90)" text-anchor="middle" fill="#111">Z(cm)</text>
<rect x="489.50" y="281.9" width="9.70" height="17.9" fill="#0000ff"/>
<rect x="498.90" y="281.9" width="18.55" height="17.9" fill="#0066ff"/>
<rect x="517.15" y="281.9" width="18.55" height="17.9" fill="#00ccff"/>
<rect x="535.40" y="281.9" width="18.55" height="17.9" fill="#00ffcc"/>
<rect x="553.65" y="281.9" width="18.55" height="17.9" fill="#00ff66"/>
<rect x="571.90" y="281.9" width="18.55" height="17.9" fill="#00ff00"/>
<rect x="590.15" y="281.9" width="18.55" height="17.9" fill="#66ff00"/>
<rect x="608.40" y="281.9" width="18.55" height="17.9" fill="#ccff00"/>
<rect x="626.65" y="281.9" width="18.55" height="17.9" fill="#ffcc00"/>
<rect x="644.90" y="281.9" width="18.55" height="17.9" fill="#ff6600"/>
<rect x="663.15" y="281.9" width="9.25" height="17.9" fill="#ff0000"/>
<path d="M498.9 281.9V299.8M517.1 281.9V299.8M535.4 281.9V299.8M553.6 281.9V299.8M571.9 281.9V299.8M590.1 281.9V299.8M608.4 281.9V299.8M626.6 281.9V299.8M644.9 281.9V299.8M663.1 281.9V299.8" stroke="#222" stroke-width="0.6" fill="none"/>
<rect x="489.5" y="281.9" width="182.6" height="17.9" fill="none" stroke="#333" stroke-width="0.4" stroke-opacity="0.6"/>
<g class="t" font-size="11" fill="#111">
<text x="498.9" y="311.5" text-anchor="middle">-34</text>
<text x="517.1" y="311.5" text-anchor="middle">-30</text>
<text x="535.4" y="311.5" text-anchor="middle">-25</text>
<text x="553.6" y="311.5" text-anchor="middle">-20</text>
<text x="571.9" y="311.5" text-anchor="middle">-15</text>
<text x="590.1" y="311.5" text-anchor="middle">-10</text>
<text x="608.4" y="311.5" text-anchor="middle">-5</text>
<text x="626.6" y="311.5" text-anchor="middle">0</text>
<text x="644.9" y="311.5" text-anchor="middle">5</text>
<text x="663.1" y="311.5" text-anchor="middle">11</text>
<text x="442.8" y="311.5">w(cm/s):</text>
</g>
<clipPath id="cp7"><polygon points="29.5,455.5 29.5,487.0 38.1,487.0 52.5,482.9 63.9,486.4 72.6,490.3 81.2,492.0 92.6,497.4 101.2,500.7 107.0,502.4 112.7,506.7 121.3,508.3 132.8,509.8 144.3,508.3 155.8,505.9 167.3,508.3 174.4,510.7 181.6,508.9 191.9,505.2 205.1,500.9 220.4,498.7 242.2,494.2 259.7,490.9 266.3,488.1 275.2,486.6 316.5,486.6 316.5,455.5"/></clipPath>
<rect x="29.5" y="455.5" width="287.0" height="56.2" fill="#c0c0c0"/>
<g clip-path="url(#cp7)">
<rect x="29.5" y="455.5" width="287.0" height="56.2" fill="#66ff00"/>
<polygon points="35.2,455.5 53.9,455.5 61.1,464.7 72.6,469.4 78.3,477.7 86.9,482.4 98.4,492.6 107.0,499.1 98.4,499.1 63.9,486.1 46.7,482.4 39.5,475.9 38.1,466.6" fill="#ccff00" filter="url(#b2)"/>
<ellipse cx="39.5" cy="462.9" rx="2.6" ry="3.0" fill="#ffcc00" filter="url(#b1)" transform="rotate(-30 39.5 462.9)"/>
<ellipse cx="69.1" cy="486.3" rx="5.7" ry="1.7" fill="#ffcc00" filter="url(#b1)" transform="rotate(15 69.1 486.3)"/>
<ellipse cx="82.9" cy="490.0" rx="6.3" ry="1.7" fill="#ffcc00" filter="url(#b1)" transform="rotate(20 82.9 490.0)"/>
<ellipse cx="81.7" cy="490.2" rx="2.9" ry="1.3" fill="#ff6600" filter="url(#b1)" transform="rotate(20 81.7 490.2)"/>
<ellipse cx="81.2" cy="490.3" rx="1.4" ry="0.7" fill="#ff0000" filter="url(#b1)"/>
<ellipse cx="94.1" cy="493.7" rx="2.3" ry="0.9" fill="#ffcc00" filter="url(#b1)"/>
<polygon points="132.8,455.5 141.4,455.5 150.0,468.4 161.5,472.2 158.7,487.0 147.2,492.6 155.8,501.8 150.0,509.3 129.9,509.3 138.6,496.3 147.2,481.4 141.4,470.3" fill="#ccff00" filter="url(#b2)"/>
<polygon points="137.1,498.1 142.9,497.2 141.4,508.3 135.1,508.3" fill="#ffcc00" filter="url(#b1)"/>
<polygon points="194.2,467.0 211.7,467.0 210.6,470.3 200.8,472.3 198.5,480.1 202.8,486.6 196.2,492.2 207.2,494.4 205.1,499.8 191.9,504.3 178.7,510.2 175.6,499.8 177.6,488.9 181.0,477.9 187.6,470.3" fill="#ccff00" filter="url(#b1)"/>
<ellipse cx="188.5" cy="484.8" rx="3.2" ry="1.9" fill="#ffcc00" filter="url(#b1)" transform="rotate(-40 188.5 484.8)"/>
<polygon points="104.1,479.6 124.2,476.8 132.8,483.3 129.9,498.1 124.2,507.4 109.9,503.7 98.4,492.6 98.4,483.3" fill="#00ff00" filter="url(#b2)"/>
<ellipse cx="119.9" cy="497.2" rx="6.3" ry="1.5" fill="#00ff66" filter="url(#b2)"/>
<polygon points="155.8,490.7 167.3,489.8 178.7,492.6 175.9,507.4 161.5,504.6 152.9,501.8" fill="#00ff00" filter="url(#b2)"/>
<polygon points="150.0,455.5 230.4,455.5 241.9,460.1 236.1,462.9 201.7,464.2 178.7,466.6 155.8,464.7" fill="#00ff00" filter="url(#b2)"/>
<ellipse cx="250.5" cy="461.0" rx="5.7" ry="0.9" fill="#00ff00" filter="url(#b1)"/>
<ellipse cx="184.5" cy="461.4" rx="15.8" ry="4.5" fill="#00ff66" filter="url(#b2)"/>
<ellipse cx="185.3" cy="461.4" rx="9.2" ry="2.8" fill="#00ffcc" filter="url(#b1)"/>
<ellipse cx="185.6" cy="461.4" rx="5.7" ry="1.7" fill="#00ccff" filter="url(#b1)"/>
<ellipse cx="185.9" cy="461.4" rx="3.4" ry="0.9" fill="#0066ff" filter="url(#b1)"/>
</g>
<polyline points="29.5,487.0 38.1,487.0 52.5,482.9 63.9,486.4 72.6,490.3 81.2,492.0 92.6,497.4 101.2,500.7 107.0,502.4 112.7,506.7 121.3,508.3 132.8,509.8 144.3,508.3 155.8,505.9 167.3,508.3 174.4,510.7 181.6,508.9 191.9,505.2 205.1,500.9 220.4,498.7 242.2,494.2 259.7,490.9 266.3,488.1 275.2,486.6 316.5,486.6" fill="none" stroke="#222" stroke-width="0.7"/>
<line x1="29.5" y1="455.5" x2="316.5" y2="455.5" stroke="#333" stroke-width="0.7"/>

<g stroke="#222" stroke-width="0.8" fill="none">
<line x1="29.5" y1="449.9" x2="29.5" y2="511.7"/>
<line x1="29.5" y1="511.7" x2="316.5" y2="511.7" stroke-width="1"/>
<line x1="316.5" y1="455.5" x2="316.5" y2="511.7" stroke-width="0.6"/>
<path d="M29.5 511.7v2.9M35.2 511.7v1.7M41.0 511.7v1.7M46.7 511.7v1.7M52.5 511.7v1.7M58.2 511.7v2.9M63.9 511.7v1.7M69.7 511.7v1.7M75.4 511.7v1.7M81.2 511.7v1.7M86.9 511.7v2.9M92.6 511.7v1.7M98.4 511.7v1.7M104.1 511.7v1.7M109.9 511.7v1.7M115.6 511.7v2.9M121.3 511.7v1.7M127.1 511.7v1.7M132.8 511.7v1.7M138.6 511.7v1.7M144.3 511.7v2.9M150.0 511.7v1.7M155.8 511.7v1.7M161.5 511.7v1.7M167.3 511.7v1.7M173.0 511.7v2.9M178.7 511.7v1.7M184.5 511.7v1.7M190.2 511.7v1.7M196.0 511.7v1.7M201.7 511.7v2.9M207.4 511.7v1.7M213.2 511.7v1.7M218.9 511.7v1.7M224.7 511.7v1.7M230.4 511.7v2.9M236.1 511.7v1.7M241.9 511.7v1.7M247.6 511.7v1.7M253.4 511.7v1.7M259.1 511.7v2.9M264.8 511.7v1.7M270.6 511.7v1.7M276.3 511.7v1.7M282.1 511.7v1.7M287.8 511.7v2.9M293.5 511.7v1.7M299.3 511.7v1.7M305.0 511.7v1.7M310.8 511.7v1.7M316.5 511.7v2.9M29.5 505.6h-2.9M29.5 503.7h-1.7M29.5 501.8h-1.7M29.5 500.0h-1.7M29.5 498.1h-1.7M29.5 496.3h-2.9M29.5 494.4h-1.7M29.5 492.6h-1.7M29.5 490.7h-1.7M29.5 488.9h-1.7M29.5 487.0h-2.9M29.5 485.1h-1.7M29.5 483.3h-1.7M29.5 481.4h-1.7M29.5 479.6h-1.7M29.5 477.7h-2.9M29.5 475.9h-1.7M29.5 474.0h-1.7M29.5 472.2h-1.7M29.5 470.3h-1.7M29.5 468.4h-2.9M29.5 466.6h-1.7M29.5 464.7h-1.7M29.5 462.9h-1.7M29.5 461.0h-1.7M29.5 459.2h-2.9M29.5 457.3h-1.7M29.5 455.5h-1.7M29.5 453.6h-1.7M29.5 451.8h-1.7M29.5 449.9h-2.9" stroke-width="0.9" stroke="#111"/>
</g>
<g class="t" font-size="11" fill="#111">
<text x="29.5" y="520.2" text-anchor="middle">0</text>
<text x="58.2" y="520.2" text-anchor="middle">10</text>
<text x="86.9" y="520.2" text-anchor="middle">20</text>
<text x="115.6" y="520.2" text-anchor="middle">30</text>
<text x="144.3" y="520.2" text-anchor="middle">40</text>
<text x="173.0" y="520.2" text-anchor="middle">50</text>
<text x="201.7" y="520.2" text-anchor="middle">60</text>
<text x="230.4" y="520.2" text-anchor="middle">70</text>
<text x="259.1" y="520.2" text-anchor="middle">80</text>
<text x="287.8" y="520.2" text-anchor="middle">90</text>
<text x="316.5" y="520.2" text-anchor="middle">100</text>
<text x="25.4" y="508.7" text-anchor="end">-10</text>
<text x="25.4" y="499.4" text-anchor="end">-5</text>
<text x="25.4" y="490.1" text-anchor="end">0</text>
<text x="25.4" y="480.8" text-anchor="end">5</text>
<text x="25.4" y="471.6" text-anchor="end">10</text>
<text x="25.4" y="462.3" text-anchor="end">15</text>
<text x="25.4" y="453.0" text-anchor="end">20</text>
</g>
<text class="t" font-size="12.3" font-weight="bold" x="173.0" y="529.1" text-anchor="middle" fill="#111">B(cm)</text>
<text class="t" font-size="12.3" font-weight="bold" transform="translate(9.7 480.3) rotate(-90)" text-anchor="middle" fill="#111">Z(cm)</text>
<rect x="158.60" y="423.8" width="8.50" height="15.1" fill="#0000ff"/>
<rect x="166.80" y="423.8" width="16.37" height="15.1" fill="#0066ff"/>
<rect x="182.87" y="423.8" width="16.37" height="15.1" fill="#00ccff"/>
<rect x="198.94" y="423.8" width="16.37" height="15.1" fill="#00ffcc"/>
<rect x="215.01" y="423.8" width="16.37" height="15.1" fill="#00ff66"/>
<rect x="231.08" y="423.8" width="16.37" height="15.1" fill="#00ff00"/>
<rect x="247.15" y="423.8" width="16.37" height="15.1" fill="#66ff00"/>
<rect x="263.22" y="423.8" width="16.37" height="15.1" fill="#ccff00"/>
<rect x="279.29" y="423.8" width="16.37" height="15.1" fill="#ffcc00"/>
<rect x="295.36" y="423.8" width="16.37" height="15.1" fill="#ff6600"/>
<rect x="311.43" y="423.8" width="7.87" height="15.1" fill="#ff0000"/>
<path d="M166.8 423.8V438.9M182.9 423.8V438.9M198.9 423.8V438.9M215.0 423.8V438.9M231.1 423.8V438.9M247.1 423.8V438.9M263.2 423.8V438.9M279.3 423.8V438.9M295.4 423.8V438.9M311.4 423.8V438.9" stroke="#222" stroke-width="0.6" fill="none"/>
<rect x="158.6" y="423.8" width="160.4" height="15.1" fill="none" stroke="#333" stroke-width="0.4" stroke-opacity="0.6"/>
<g class="t" font-size="10.1" fill="#111">
<text x="166.8" y="452.5" text-anchor="middle">-27</text>
<text x="182.9" y="452.5" text-anchor="middle">-25</text>
<text x="198.9" y="452.5" text-anchor="middle">-20</text>
<text x="215.0" y="452.5" text-anchor="middle">-15</text>
<text x="231.1" y="452.5" text-anchor="middle">-10</text>
<text x="247.1" y="452.5" text-anchor="middle">-5</text>
<text x="263.2" y="452.5" text-anchor="middle">0</text>
<text x="279.3" y="452.5" text-anchor="middle">5</text>
<text x="295.4" y="452.5" text-anchor="middle">10</text>
<text x="311.4" y="452.5" text-anchor="middle">14</text>
<text x="116.0" y="452.5">w(cm/s):</text>
</g>
<clipPath id="cp8"><polygon points="389.6,454.4 389.6,482.8 398.2,480.4 405.3,479.0 412.5,479.8 418.2,481.4 426.8,484.0 438.2,490.4 446.8,495.4 461.1,501.4 475.4,508.0 484.0,510.4 498.3,511.0 506.9,510.0 515.5,508.6 526.9,510.0 535.5,510.8 547.0,508.4 558.4,505.8 575.6,502.4 589.9,498.4 604.2,493.4 618.5,489.0 632.8,488.4 675.7,488.4 675.7,454.4"/></clipPath>
<rect x="389.6" y="454.4" width="286.1" height="58.0" fill="#c0c0c0"/>
<g clip-path="url(#cp8)">
<rect x="389.6" y="454.4" width="286.1" height="58.0" fill="#00ff39"/>
<polygon points="389.6,454.4 409.6,454.4 415.3,467.4 452.5,467.4 458.3,472.4 475.4,469.4 478.3,482.4 475.4,494.4 481.2,512.4 389.6,512.4" fill="#39ff00" filter="url(#b2)"/>
<polygon points="498.3,470.4 512.6,471.4 515.5,492.4 511.2,508.4 501.2,508.4 501.2,488.4" fill="#39ff00" filter="url(#b2)"/>
<polygon points="538.4,468.4 555.5,468.4 558.4,484.4 552.7,500.4 541.2,506.4 538.4,488.4" fill="#39ff00" filter="url(#b2)"/>
<polygon points="658.5,469.4 664.3,470.4 670.0,481.4 665.7,481.4" fill="#39ff00" filter="url(#b1)"/>
<polygon points="621.3,485.2 672.8,484.8 672.8,490.4 621.3,490.4" fill="#39ff00" filter="url(#b1)"/>
<ellipse cx="492.9" cy="499.0" rx="9.7" ry="5.6" fill="#00ffaa" filter="url(#b2)"/>
<ellipse cx="528.9" cy="498.0" rx="7.4" ry="3.6" fill="#00ffaa" filter="url(#b2)"/>
<ellipse cx="491.7" cy="487.0" rx="2.3" ry="1.2" fill="#00ffaa" filter="url(#b1)"/>
<ellipse cx="446.8" cy="492.0" rx="1.6" ry="1.4" fill="#aaff00" filter="url(#b1)"/>
<ellipse cx="469.4" cy="498.0" rx="1.6" ry="1.6" fill="#aaff00" filter="url(#b1)"/>
<polygon points="407.6,454.4 667.1,454.4 664.3,467.2 561.3,467.6 414.2,466.8" fill="#00ff39" filter="url(#b1)"/>
<polygon points="409.6,456.4 661.4,456.4 660.0,465.2 415.3,464.8" fill="#00ffaa" filter="url(#b2)"/>
<polygon points="410.8,458.0 456.8,458.0 464.0,459.2 458.3,462.8 413.9,463.2" fill="#00e3ff" filter="url(#b1)"/>
<ellipse cx="478.3" cy="460.4" rx="5.7" ry="1.8" fill="#00e3ff" filter="url(#b1)"/>
<ellipse cx="504.0" cy="460.6" rx="5.7" ry="1.6" fill="#00e3ff" filter="url(#b1)"/>
<ellipse cx="526.9" cy="460.6" rx="8.6" ry="1.6" fill="#00e3ff" filter="url(#b1)"/>
<ellipse cx="539.8" cy="460.6" rx="9.2" ry="2.2" fill="#00e3ff" filter="url(#b1)"/>
<ellipse cx="579.9" cy="460.8" rx="20.0" ry="2.6" fill="#00e3ff" filter="url(#b1)"/>
<ellipse cx="618.5" cy="460.8" rx="14.3" ry="1.2" fill="#00e3ff" filter="url(#b1)"/>
<polygon points="417.4,459.6 443.7,459.6 443.7,461.2 417.4,461.2" fill="#0071ff" filter="url(#b1)"/>
<ellipse cx="539.2" cy="460.6" rx="3.7" ry="1.0" fill="#0071ff" filter="url(#b1)"/>
<ellipse cx="581.3" cy="460.8" rx="12.0" ry="1.2" fill="#0071ff" filter="url(#b1)"/>
<ellipse cx="652.5" cy="461.0" rx="4.0" ry="4.0" fill="#00e3ff" filter="url(#b1)"/>
<ellipse cx="652.5" cy="461.0" rx="2.0" ry="2.2" fill="#0071ff" filter="url(#b1)"/>
<ellipse cx="395.3" cy="462.0" rx="5.4" ry="6.8" fill="#aaff00" filter="url(#b1)" transform="rotate(-12 395.3 462.0)"/>
<ellipse cx="395.0" cy="461.4" rx="3.7" ry="5.0" fill="#ffe300" filter="url(#b1)" transform="rotate(-12 395.0 461.4)"/>
<ellipse cx="394.5" cy="460.6" rx="2.0" ry="3.0" fill="#ff7100" filter="url(#b1)" transform="rotate(-12 394.5 460.6)"/>
<ellipse cx="394.2" cy="460.0" rx="1.0" ry="1.4" fill="#ff0000" filter="url(#b1)" transform="rotate(-12 394.2 460.0)"/>
</g>
<polyline points="389.6,482.8 398.2,480.4 405.3,479.0 412.5,479.8 418.2,481.4 426.8,484.0 438.2,490.4 446.8,495.4 461.1,501.4 475.4,508.0 484.0,510.4 498.3,511.0 506.9,510.0 515.5,508.6 526.9,510.0 535.5,510.8 547.0,508.4 558.4,505.8 575.6,502.4 589.9,498.4 604.2,493.4 618.5,489.0 632.8,488.4 675.7,488.4" fill="none" stroke="#222" stroke-width="0.7"/>
<line x1="389.6" y1="454.4" x2="675.7" y2="454.4" stroke="#333" stroke-width="0.7"/>

<g stroke="#222" stroke-width="0.8" fill="none">
<line x1="389.6" y1="448.4" x2="389.6" y2="512.4"/>
<line x1="389.6" y1="512.4" x2="675.7" y2="512.4" stroke-width="1"/>
<line x1="675.7" y1="454.4" x2="675.7" y2="512.4" stroke-width="0.6"/>
<path d="M389.6 512.4v2.9M395.3 512.4v1.7M401.0 512.4v1.7M406.8 512.4v1.7M412.5 512.4v1.7M418.2 512.4v2.9M423.9 512.4v1.7M429.7 512.4v1.7M435.4 512.4v1.7M441.1 512.4v1.7M446.8 512.4v2.9M452.5 512.4v1.7M458.3 512.4v1.7M464.0 512.4v1.7M469.7 512.4v1.7M475.4 512.4v2.9M481.2 512.4v1.7M486.9 512.4v1.7M492.6 512.4v1.7M498.3 512.4v1.7M504.0 512.4v2.9M509.8 512.4v1.7M515.5 512.4v1.7M521.2 512.4v1.7M526.9 512.4v1.7M532.7 512.4v2.9M538.4 512.4v1.7M544.1 512.4v1.7M549.8 512.4v1.7M555.5 512.4v1.7M561.3 512.4v2.9M567.0 512.4v1.7M572.7 512.4v1.7M578.4 512.4v1.7M584.1 512.4v1.7M589.9 512.4v2.9M595.6 512.4v1.7M601.3 512.4v1.7M607.0 512.4v1.7M612.8 512.4v1.7M618.5 512.4v2.9M624.2 512.4v1.7M629.9 512.4v1.7M635.6 512.4v1.7M641.4 512.4v1.7M647.1 512.4v2.9M652.8 512.4v1.7M658.5 512.4v1.7M664.3 512.4v1.7M670.0 512.4v1.7M675.7 512.4v2.9M389.6 508.4h-2.9M389.6 506.4h-1.7M389.6 504.4h-1.7M389.6 502.4h-1.7M389.6 500.4h-1.7M389.6 498.4h-2.9M389.6 496.4h-1.7M389.6 494.4h-1.7M389.6 492.4h-1.7M389.6 490.4h-1.7M389.6 488.4h-2.9M389.6 486.4h-1.7M389.6 484.4h-1.7M389.6 482.4h-1.7M389.6 480.4h-1.7M389.6 478.4h-2.9M389.6 476.4h-1.7M389.6 474.4h-1.7M389.6 472.4h-1.7M389.6 470.4h-1.7M389.6 468.4h-2.9M389.6 466.4h-1.7M389.6 464.4h-1.7M389.6 462.4h-1.7M389.6 460.4h-1.7M389.6 458.4h-2.9M389.6 456.4h-1.7M389.6 454.4h-1.7M389.6 452.4h-1.7M389.6 450.4h-1.7M389.6 448.4h-2.9" stroke-width="0.9" stroke="#111"/>
</g>
<g class="t" font-size="11" fill="#111">
<text x="389.6" y="520.9" text-anchor="middle">0</text>
<text x="418.2" y="520.9" text-anchor="middle">10</text>
<text x="446.8" y="520.9" text-anchor="middle">20</text>
<text x="475.4" y="520.9" text-anchor="middle">30</text>
<text x="504.0" y="520.9" text-anchor="middle">40</text>
<text x="532.7" y="520.9" text-anchor="middle">50</text>
<text x="561.3" y="520.9" text-anchor="middle">60</text>
<text x="589.9" y="520.9" text-anchor="middle">70</text>
<text x="618.5" y="520.9" text-anchor="middle">80</text>
<text x="647.1" y="520.9" text-anchor="middle">90</text>
<text x="675.7" y="520.9" text-anchor="middle">100</text>
<text x="385.5" y="511.5" text-anchor="end">-10</text>
<text x="385.5" y="501.5" text-anchor="end">-5</text>
<text x="385.5" y="491.5" text-anchor="end">0</text>
<text x="385.5" y="481.5" text-anchor="end">5</text>
<text x="385.5" y="471.5" text-anchor="end">10</text>
<text x="385.5" y="461.5" text-anchor="end">15</text>
<text x="385.5" y="451.5" text-anchor="end">20</text>
</g>
<text class="t" font-size="12.3" font-weight="bold" x="532.7" y="529.8" text-anchor="middle" fill="#111">B(cm)</text>
<text class="t" font-size="12.3" font-weight="bold" transform="translate(369.8 480.1) rotate(-90)" text-anchor="middle" fill="#111">Z(cm)</text>
<rect x="504.50" y="421.9" width="9.70" height="17.9" fill="#0000ff"/>
<rect x="513.90" y="421.9" width="18.55" height="17.9" fill="#0071ff"/>
<rect x="532.15" y="421.9" width="18.55" height="17.9" fill="#00e3ff"/>
<rect x="550.40" y="421.9" width="18.55" height="17.9" fill="#00ffaa"/>
<rect x="568.65" y="421.9" width="18.55" height="17.9" fill="#00ff39"/>
<rect x="586.90" y="421.9" width="18.55" height="17.9" fill="#39ff00"/>
<rect x="605.15" y="421.9" width="18.55" height="17.9" fill="#aaff00"/>
<rect x="623.40" y="421.9" width="18.55" height="17.9" fill="#ffe300"/>
<rect x="641.65" y="421.9" width="18.55" height="17.9" fill="#ff7100"/>
<rect x="659.90" y="421.9" width="9.40" height="17.9" fill="#ff0000"/>
<path d="M513.9 421.9V439.8M532.1 421.9V439.8M550.4 421.9V439.8M568.6 421.9V439.8M586.9 421.9V439.8M605.1 421.9V439.8M623.4 421.9V439.8M641.6 421.9V439.8M659.9 421.9V439.8" stroke="#222" stroke-width="0.6" fill="none"/>
<rect x="504.5" y="421.9" width="164.5" height="17.9" fill="none" stroke="#333" stroke-width="0.4" stroke-opacity="0.6"/>
<g class="t" font-size="11" fill="#111">
<text x="513.9" y="452.8" text-anchor="middle">-21</text>
<text x="532.1" y="452.8" text-anchor="middle">-15</text>
<text x="550.4" y="452.8" text-anchor="middle">-10</text>
<text x="568.6" y="452.8" text-anchor="middle">-5</text>
<text x="586.9" y="452.8" text-anchor="middle">0</text>
<text x="605.1" y="452.8" text-anchor="middle">5</text>
<text x="623.4" y="452.8" text-anchor="middle">10</text>
<text x="641.6" y="452.8" text-anchor="middle">15</text>
<text x="659.9" y="452.8" text-anchor="middle">21</text>
<text x="457.6" y="452.8">w(cm/s):</text>
</g>
<text class="t tb" font-size="17" x="345.1" y="124.5" text-anchor="middle" fill="#111">(a)</text>
<text class="t tb" font-size="17" x="342.9" y="265.4" text-anchor="middle" fill="#111">(b)</text>
<text class="t tb" font-size="17" x="343.1" y="406.4" text-anchor="middle" fill="#111">(c)</text>
<text class="t tb" font-size="17" x="342.9" y="547" text-anchor="middle" fill="#111">(d)</text>
</svg></body></html>
